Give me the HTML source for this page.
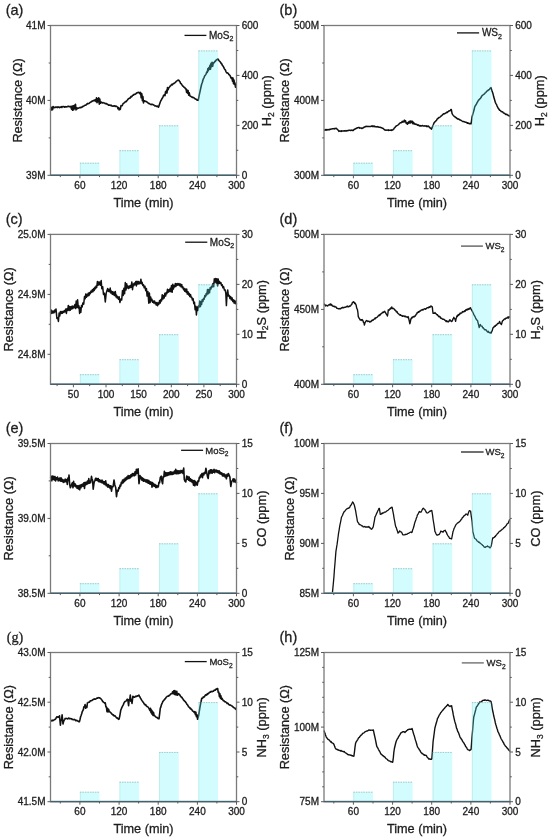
<!DOCTYPE html>
<html><head><meta charset="utf-8"><style>
html,body{margin:0;padding:0;background:#fff;}
svg{display:block;font-family:"Liberation Sans", sans-serif;will-change:transform;}
text{stroke:#1e1e1e;stroke-width:0.3px;}
</style></head><body>
<svg width="550" height="839" viewBox="0 0 550 839">
<rect width="550" height="839" fill="#fff"/>
<text x="5.7" y="14.8" font-size="14.5" fill="#1e1e1e">(a)</text>
<polyline points="50.5,109.6 51.0,107.2 51.5,110.0 52.1,107.2 52.6,109.7 53.1,106.5 53.6,107.4 54.2,107.7 54.7,107.2 55.2,107.5 55.8,107.1 56.3,107.0 56.8,107.2 57.3,107.6 57.8,106.9 58.4,107.0 58.9,107.3 59.4,107.6 59.9,107.2 60.4,107.0 61.0,107.5 61.5,106.6 62.0,107.3 62.5,106.8 63.0,106.6 63.6,106.6 64.1,106.7 64.6,107.2 65.2,106.6 65.7,106.9 66.2,106.9 66.7,106.7 67.2,106.8 67.8,106.3 68.3,106.3 68.8,106.4 69.4,106.8 69.9,106.6 70.4,106.4 70.9,107.0 71.5,109.1 72.0,106.0 72.6,110.3 73.2,105.7 73.8,109.7 74.4,105.3 75.0,108.5 75.5,104.3 76.0,109.9 76.5,107.8 77.0,108.9 77.5,108.0 78.0,108.2 78.5,108.3 79.1,107.7 79.6,107.8 80.1,107.3 80.6,107.8 81.1,107.6 81.6,107.1 82.2,107.1 82.7,106.3 83.2,106.4 83.7,106.0 84.3,105.7 84.8,105.3 85.3,105.3 85.8,105.2 86.4,104.4 86.9,104.3 87.4,103.5 87.9,103.8 88.4,103.5 88.9,103.5 89.4,103.1 90.0,102.4 90.5,102.2 91.0,102.2 91.5,101.3 92.0,101.5 92.6,101.0 93.1,100.7 93.7,100.4 94.2,100.8 94.8,100.0 95.3,99.8 95.9,101.5 96.5,97.9 97.0,102.6 97.5,98.7 98.0,101.6 98.7,97.7 99.3,104.1 99.8,99.0 100.3,103.3 100.9,102.0 101.4,102.1 101.9,102.8 102.4,103.0 102.9,102.5 103.4,102.7 104.0,102.9 104.5,103.1 105.0,103.5 105.5,103.8 106.0,103.6 106.5,103.6 107.0,104.1 107.5,104.2 108.0,104.6 108.5,105.1 109.0,105.0 109.5,105.0 110.0,105.3 110.5,105.5 111.0,105.0 111.6,105.9 112.1,105.9 112.6,106.1 113.2,106.2 113.7,105.9 114.2,106.0 114.7,105.9 115.2,106.5 115.8,106.1 116.3,106.2 116.9,106.6 117.4,106.9 118.0,108.8 118.6,107.5 119.1,109.9 119.7,109.0 120.3,109.4 121.0,105.6 121.5,105.8 122.0,105.8 122.6,104.8 123.1,103.6 123.7,103.2 124.2,102.8 124.8,102.3 125.3,101.6 125.9,101.8 126.4,101.4 127.0,100.5 127.5,100.0 128.0,99.2 128.5,98.8 129.0,98.5 129.6,98.0 130.1,98.1 130.6,97.0 131.1,96.4 131.6,96.8 132.2,96.0 132.7,95.3 133.3,95.2 133.9,94.4 134.4,94.4 135.0,94.4 135.5,94.1 136.0,93.7 136.5,93.0 137.1,92.9 137.6,92.5 138.1,92.7 138.6,92.3 139.1,92.3 140.0,93.9 140.6,92.4 141.2,97.8 141.8,93.7 142.4,100.6 142.9,96.5 143.5,102.9 144.1,100.8 144.6,100.7 145.2,101.3 145.7,101.5 146.2,101.5 146.8,101.8 147.3,102.4 147.9,102.7 148.4,103.3 149.0,103.7 149.5,103.5 150.0,104.1 150.6,104.4 151.1,104.6 151.6,104.2 152.1,104.3 152.7,104.5 153.2,104.7 153.7,104.9 154.3,105.5 154.8,105.9 155.3,106.0 155.8,105.9 156.4,106.2 156.9,106.5 157.4,106.1 158.0,106.8 158.5,107.2 159.1,105.5 159.7,103.8 160.3,102.0 160.8,100.7 161.3,100.1 161.9,98.7 162.4,98.0 162.9,97.1 163.4,95.8 163.9,95.1 164.4,94.8 165.0,95.7 165.5,91.9 166.0,93.1 166.5,90.4 167.0,92.9 167.5,87.5 168.1,89.8 168.6,88.2 169.1,87.4 169.7,86.7 170.2,86.0 170.8,85.7 171.3,84.9 171.8,84.4 172.4,84.8 172.9,84.1 173.5,83.5 174.0,83.5 174.6,82.7 175.1,82.7 175.7,82.2 176.2,81.3 176.8,80.9 177.3,80.6 177.9,80.2 178.4,80.1 179.0,80.5 179.5,81.4 180.1,81.9 180.6,83.4 181.2,83.7 181.7,84.5 182.3,85.4 182.8,86.2 183.4,86.3 183.9,87.2 184.5,87.4 185.0,87.9 185.5,88.8 186.0,88.7 186.6,92.4 187.1,90.1 187.6,93.2 188.1,90.5 188.7,95.1 189.2,92.7 189.8,95.6 190.3,96.3 190.8,96.3 191.3,96.7 191.8,97.0 192.3,97.5 192.8,97.1 193.3,97.8 193.8,97.8 194.4,98.1 194.9,98.8 195.4,98.9 196.0,99.2 196.6,99.7 197.1,100.1 197.6,100.0 198.2,100.4 198.8,97.3 199.4,94.4 200.0,91.6 200.6,88.9 201.1,86.5 201.7,84.0 202.3,82.5 202.9,80.3 203.5,78.5 204.1,77.6 204.6,76.0 205.2,75.3 205.7,74.6 206.2,73.6 206.8,71.9 207.3,72.4 207.9,68.5 208.4,70.7 208.9,67.5 209.5,69.3 210.0,65.2 210.5,69.3 211.0,63.3 211.6,66.6 212.1,62.2 212.7,66.2 213.2,62.9 213.8,63.0 214.3,62.5 214.8,61.3 215.4,61.4 215.9,60.4 216.5,59.9 217.0,59.8 217.6,59.1 218.1,59.1 218.6,60.0 219.1,60.7 219.6,61.2 220.1,61.7 220.6,62.4 221.1,63.4 221.6,63.6 222.2,65.0 222.7,65.8 223.2,66.3 223.8,67.4 224.3,68.6 224.8,69.4 225.3,69.8 225.9,71.6 226.4,72.3 226.9,72.9 227.4,72.7 227.9,73.3 228.4,73.6 228.9,74.8 229.4,74.9 229.9,75.3 230.4,76.4 230.9,77.7 231.4,78.5 232.0,77.6 232.5,81.2 233.0,78.0 233.5,83.8 234.0,80.1 234.5,84.4 235.0,83.1 235.5,87.2 236.0,85.6 236.5,86.1" fill="none" stroke="#111" stroke-width="1.6" stroke-linejoin="round"/>
<rect x="79.9" y="162.8" width="19.6" height="12.5" fill="rgb(88,245,248)" fill-opacity="0.27"/>
<line x1="79.9" y1="163.2" x2="99.5" y2="163.2" stroke="#8aa" stroke-width="0.8" stroke-dasharray="1.5,1" stroke-opacity="0.8"/>
<line x1="80.3" y1="162.8" x2="80.3" y2="175.3" stroke="#8cc" stroke-width="0.6" stroke-opacity="0.5"/>
<rect x="119.5" y="150.3" width="19.6" height="25.0" fill="rgb(88,245,248)" fill-opacity="0.27"/>
<line x1="119.5" y1="150.7" x2="139.1" y2="150.7" stroke="#8aa" stroke-width="0.8" stroke-dasharray="1.5,1" stroke-opacity="0.8"/>
<line x1="119.9" y1="150.3" x2="119.9" y2="175.3" stroke="#8cc" stroke-width="0.6" stroke-opacity="0.5"/>
<rect x="159.1" y="125.4" width="19.6" height="49.9" fill="rgb(88,245,248)" fill-opacity="0.27"/>
<line x1="159.1" y1="125.8" x2="178.7" y2="125.8" stroke="#8aa" stroke-width="0.8" stroke-dasharray="1.5,1" stroke-opacity="0.8"/>
<line x1="159.5" y1="125.4" x2="159.5" y2="175.3" stroke="#8cc" stroke-width="0.6" stroke-opacity="0.5"/>
<rect x="198.4" y="50.5" width="19.6" height="124.8" fill="rgb(88,245,248)" fill-opacity="0.27"/>
<line x1="198.4" y1="50.9" x2="218.0" y2="50.9" stroke="#8aa" stroke-width="0.8" stroke-dasharray="1.5,1" stroke-opacity="0.8"/>
<line x1="198.8" y1="50.5" x2="198.8" y2="175.3" stroke="#8cc" stroke-width="0.6" stroke-opacity="0.5"/>
<line x1="50.5" y1="174.7" x2="236.5" y2="174.7" stroke="#8cc8d8" stroke-width="1"/>
<rect x="50.5" y="25.5" width="186.0" height="149.8" fill="none" stroke="#7a7a7a" stroke-width="1.3"/>
<line x1="50.5" y1="175.3" x2="236.5" y2="175.3" stroke="#4e5e66" stroke-width="1.2"/>
<line x1="47.5" y1="175.3" x2="50.5" y2="175.3" stroke="#5a5a5a" stroke-width="1"/>
<text x="45.5" y="178.9" font-size="10" text-anchor="end" fill="#1e1e1e">39M</text>
<line x1="47.5" y1="100.4" x2="50.5" y2="100.4" stroke="#5a5a5a" stroke-width="1"/>
<text x="45.5" y="104.0" font-size="10" text-anchor="end" fill="#1e1e1e">40M</text>
<line x1="47.5" y1="25.5" x2="50.5" y2="25.5" stroke="#5a5a5a" stroke-width="1"/>
<text x="45.5" y="29.1" font-size="10" text-anchor="end" fill="#1e1e1e">41M</text>
<line x1="48.7" y1="137.9" x2="50.5" y2="137.9" stroke="#5a5a5a" stroke-width="1"/>
<line x1="48.7" y1="63.0" x2="50.5" y2="63.0" stroke="#5a5a5a" stroke-width="1"/>
<line x1="236.5" y1="175.3" x2="239.5" y2="175.3" stroke="#5a5a5a" stroke-width="1"/>
<text x="241.7" y="178.9" font-size="10" fill="#1e1e1e">0</text>
<line x1="236.5" y1="125.4" x2="239.5" y2="125.4" stroke="#5a5a5a" stroke-width="1"/>
<text x="241.7" y="129.0" font-size="10" fill="#1e1e1e">200</text>
<line x1="236.5" y1="75.4" x2="239.5" y2="75.4" stroke="#5a5a5a" stroke-width="1"/>
<text x="241.7" y="79.0" font-size="10" fill="#1e1e1e">400</text>
<line x1="236.5" y1="25.5" x2="239.5" y2="25.5" stroke="#5a5a5a" stroke-width="1"/>
<text x="241.7" y="29.1" font-size="10" fill="#1e1e1e">600</text>
<line x1="236.5" y1="150.3" x2="238.3" y2="150.3" stroke="#5a5a5a" stroke-width="1"/>
<line x1="236.5" y1="100.4" x2="238.3" y2="100.4" stroke="#5a5a5a" stroke-width="1"/>
<line x1="236.5" y1="50.5" x2="238.3" y2="50.5" stroke="#5a5a5a" stroke-width="1"/>
<line x1="79.9" y1="175.3" x2="79.9" y2="178.3" stroke="#5a5a5a" stroke-width="1"/>
<text x="79.9" y="188.5" font-size="10" text-anchor="middle" fill="#1e1e1e">60</text>
<line x1="119.1" y1="175.3" x2="119.1" y2="178.3" stroke="#5a5a5a" stroke-width="1"/>
<text x="119.1" y="188.5" font-size="10" text-anchor="middle" fill="#1e1e1e">120</text>
<line x1="158.2" y1="175.3" x2="158.2" y2="178.3" stroke="#5a5a5a" stroke-width="1"/>
<text x="158.2" y="188.5" font-size="10" text-anchor="middle" fill="#1e1e1e">180</text>
<line x1="197.4" y1="175.3" x2="197.4" y2="178.3" stroke="#5a5a5a" stroke-width="1"/>
<text x="197.4" y="188.5" font-size="10" text-anchor="middle" fill="#1e1e1e">240</text>
<line x1="236.5" y1="175.3" x2="236.5" y2="178.3" stroke="#5a5a5a" stroke-width="1"/>
<text x="236.5" y="188.5" font-size="10" text-anchor="middle" fill="#1e1e1e">300</text>
<line x1="60.3" y1="175.3" x2="60.3" y2="177.10000000000002" stroke="#5a5a5a" stroke-width="1"/>
<line x1="99.5" y1="175.3" x2="99.5" y2="177.10000000000002" stroke="#5a5a5a" stroke-width="1"/>
<line x1="138.6" y1="175.3" x2="138.6" y2="177.10000000000002" stroke="#5a5a5a" stroke-width="1"/>
<line x1="177.8" y1="175.3" x2="177.8" y2="177.10000000000002" stroke="#5a5a5a" stroke-width="1"/>
<line x1="216.9" y1="175.3" x2="216.9" y2="177.10000000000002" stroke="#5a5a5a" stroke-width="1"/>
<text x="143.5" y="206.9" font-size="12.7" text-anchor="middle" fill="#1e1e1e">Time (min)</text>
<text transform="translate(21.9,100.5) rotate(-90)" font-size="12.7" text-anchor="middle" fill="#1e1e1e">Resistance (&#937;)</text>
<text transform="translate(271.1,100.7) rotate(-90)" font-size="12.8" text-anchor="middle" fill="#1e1e1e">H<tspan font-size="8.5" dy="2.5">2</tspan><tspan dy="-2.5"> (ppm)</tspan></text>
<line x1="184.5" y1="35.4" x2="206.4" y2="35.4" stroke="#111" stroke-width="1.3"/>
<text x="208.9" y="38.8" font-size="10" fill="#1e1e1e">MoS<tspan font-size="7.0" dy="2.5">2</tspan></text>
<text x="279.5" y="14.8" font-size="14.5" fill="#1e1e1e">(b)</text>
<polyline points="324.0,130.3 324.5,130.1 325.0,130.1 325.5,129.6 326.0,130.1 326.5,129.5 327.0,130.0 327.5,129.7 328.0,129.6 328.5,129.7 329.0,129.9 329.5,129.4 330.0,129.2 330.5,129.4 331.0,129.1 331.6,129.0 332.1,128.9 332.6,128.7 333.1,128.7 333.6,128.7 334.1,128.6 334.6,128.9 335.2,128.4 335.7,128.5 336.2,128.2 336.7,128.9 337.3,129.2 337.8,129.9 338.4,130.3 338.9,131.4 339.4,131.2 339.9,130.9 340.4,131.1 340.9,131.4 341.4,130.8 341.9,131.2 342.5,130.9 343.0,130.9 343.5,131.1 344.0,130.8 344.5,130.8 345.0,130.9 345.5,131.1 346.0,130.6 346.5,130.9 347.0,130.8 347.5,130.7 348.0,130.5 348.5,130.5 349.0,130.2 349.5,130.3 350.0,130.2 350.5,130.6 351.0,130.3 351.5,130.2 352.0,130.1 352.5,130.6 353.0,130.6 353.5,130.1 354.1,129.5 354.6,129.2 355.1,129.0 355.6,128.8 356.2,128.3 356.7,128.2 357.2,127.7 357.8,127.9 358.3,127.6 358.8,127.5 359.3,127.5 359.8,128.2 360.3,127.9 360.8,128.1 361.3,128.1 361.8,128.5 362.3,128.3 362.8,128.1 363.3,127.6 363.8,127.6 364.3,127.0 364.8,126.9 365.3,126.5 365.8,126.7 366.3,126.4 366.8,126.3 367.3,126.5 367.8,126.4 368.3,126.6 368.9,126.5 369.4,126.6 369.9,126.5 370.4,126.5 370.9,126.5 371.4,126.1 371.9,126.0 372.4,126.4 372.9,125.9 373.4,126.4 374.0,126.4 374.5,126.1 375.0,126.7 375.5,126.8 376.0,126.7 376.5,126.8 377.1,127.0 377.6,126.6 378.1,126.9 378.6,127.0 379.1,127.3 379.6,127.3 380.2,127.4 380.7,127.3 381.2,127.6 381.7,127.8 382.2,128.2 382.7,128.3 383.2,128.5 383.7,129.0 384.2,129.5 384.7,129.7 385.2,130.3 385.7,130.1 386.2,130.1 386.7,130.2 387.2,130.2 387.7,130.1 388.2,129.8 388.7,130.4 389.2,130.3 389.7,130.2 390.2,130.2 390.7,130.3 391.2,129.9 391.7,130.4 392.2,130.1 392.7,130.0 393.2,129.4 393.7,129.1 394.3,128.0 394.8,127.7 395.3,127.1 395.8,126.4 396.4,125.9 396.9,125.6 397.4,125.4 398.0,125.0 398.5,124.5 399.0,124.2 399.5,123.4 400.1,123.0 400.6,122.7 401.2,122.8 401.7,122.2 402.2,121.3 402.8,122.2 403.4,121.2 403.9,121.9 404.4,120.1 405.0,121.7 405.6,120.9 406.2,123.4 406.8,123.0 407.4,124.3 407.9,122.5 408.4,123.4 409.0,121.5 409.6,122.9 410.1,120.9 410.6,122.9 411.2,121.1 411.7,122.6 412.3,121.2 412.8,123.7 413.4,122.2 413.9,123.9 414.5,123.4 415.0,124.3 415.5,124.0 416.0,124.4 416.6,124.3 417.1,124.7 417.6,125.2 418.1,124.8 418.6,125.5 419.2,125.4 419.7,125.9 420.2,125.9 420.7,125.6 421.2,126.1 421.7,125.9 422.2,125.6 422.7,125.6 423.2,126.0 423.7,126.0 424.2,125.9 424.8,125.8 425.3,126.0 425.8,126.0 426.3,126.4 426.8,125.8 427.3,126.4 427.8,126.5 428.3,126.0 428.8,126.6 429.3,127.0 429.8,127.7 430.4,127.9 430.9,128.5 431.4,129.1 431.9,128.3 432.4,126.9 433.0,125.5 433.5,124.3 434.0,123.0 434.5,122.3 435.0,121.7 435.5,121.6 436.0,120.6 436.5,120.4 437.0,119.3 437.5,118.7 438.0,118.5 438.5,117.8 439.0,117.5 439.5,117.5 440.1,117.0 440.6,116.5 441.1,115.9 441.6,115.7 442.1,115.2 442.6,114.5 443.1,114.4 443.6,113.7 444.2,113.9 444.7,113.5 445.2,113.4 445.7,113.1 446.2,112.6 446.8,112.2 447.3,112.5 447.8,111.7 448.3,111.6 448.8,111.1 449.3,110.7 449.8,110.7 450.3,110.5 450.8,109.6 451.3,109.5 452.1,113.6 452.7,114.6 453.3,115.4 453.9,116.1 454.4,116.4 454.9,116.7 455.4,117.5 455.9,117.6 456.4,117.7 456.9,118.5 457.4,118.9 457.9,118.8 458.4,118.9 458.9,119.3 459.4,119.5 459.9,120.0 460.4,120.0 461.0,120.3 461.5,120.6 462.0,121.0 462.6,121.4 463.1,121.5 463.6,121.5 464.1,121.7 464.7,122.0 465.2,122.1 465.7,122.3 466.3,122.3 466.8,122.6 467.3,123.3 467.9,122.8 468.4,123.3 469.0,123.5 469.5,123.8 470.0,123.5 470.6,123.7 471.1,123.8 472.0,117.0 472.5,115.2 473.0,113.6 473.6,111.6 474.1,109.8 474.6,107.3 475.2,105.9 475.9,105.0 476.5,103.8 477.1,102.6 477.7,101.8 478.3,100.5 478.9,99.8 479.4,99.5 479.9,98.8 480.5,98.2 481.0,97.6 481.5,96.4 482.0,95.8 482.5,95.2 483.1,94.9 483.6,94.5 484.1,94.1 484.7,93.5 485.2,92.9 485.8,92.5 486.4,91.8 486.9,91.3 487.5,90.5 488.0,90.6 488.5,89.8 489.0,89.8 489.5,89.2 490.0,88.5 490.5,88.0 491.0,87.6 491.6,89.6 492.1,91.4 492.7,92.7 493.2,94.6 493.7,96.8 494.3,98.8 494.8,100.5 495.3,102.3 495.9,103.6 496.4,104.3 496.9,105.6 497.5,106.8 498.0,108.0 498.6,108.6 499.1,109.6 499.6,110.2 500.1,110.4 500.6,110.7 501.2,111.6 501.7,111.7 502.2,111.8 502.7,112.0 503.2,112.6 503.8,113.1 504.3,113.3 504.8,113.5 505.3,114.1 505.8,114.5 506.4,114.3 506.9,114.4 507.4,114.9 507.9,115.2 508.4,115.6 509.0,115.6 509.5,116.2 510.0,116.5" fill="none" stroke="#111" stroke-width="1.5" stroke-linejoin="round"/>
<rect x="353.4" y="162.8" width="19.6" height="12.5" fill="rgb(88,245,248)" fill-opacity="0.27"/>
<line x1="353.4" y1="163.2" x2="373.0" y2="163.2" stroke="#8aa" stroke-width="0.8" stroke-dasharray="1.5,1" stroke-opacity="0.8"/>
<line x1="353.8" y1="162.8" x2="353.8" y2="175.3" stroke="#8cc" stroke-width="0.6" stroke-opacity="0.5"/>
<rect x="393.0" y="150.3" width="19.6" height="25.0" fill="rgb(88,245,248)" fill-opacity="0.27"/>
<line x1="393.0" y1="150.7" x2="412.6" y2="150.7" stroke="#8aa" stroke-width="0.8" stroke-dasharray="1.5,1" stroke-opacity="0.8"/>
<line x1="393.4" y1="150.3" x2="393.4" y2="175.3" stroke="#8cc" stroke-width="0.6" stroke-opacity="0.5"/>
<rect x="432.6" y="125.4" width="19.6" height="49.9" fill="rgb(88,245,248)" fill-opacity="0.27"/>
<line x1="432.6" y1="125.8" x2="452.2" y2="125.8" stroke="#8aa" stroke-width="0.8" stroke-dasharray="1.5,1" stroke-opacity="0.8"/>
<line x1="433.0" y1="125.4" x2="433.0" y2="175.3" stroke="#8cc" stroke-width="0.6" stroke-opacity="0.5"/>
<rect x="471.9" y="50.5" width="19.6" height="124.8" fill="rgb(88,245,248)" fill-opacity="0.27"/>
<line x1="471.9" y1="50.9" x2="491.5" y2="50.9" stroke="#8aa" stroke-width="0.8" stroke-dasharray="1.5,1" stroke-opacity="0.8"/>
<line x1="472.3" y1="50.5" x2="472.3" y2="175.3" stroke="#8cc" stroke-width="0.6" stroke-opacity="0.5"/>
<line x1="324.0" y1="174.7" x2="510.0" y2="174.7" stroke="#8cc8d8" stroke-width="1"/>
<rect x="324.0" y="25.5" width="186.0" height="149.8" fill="none" stroke="#7a7a7a" stroke-width="1.3"/>
<line x1="324.0" y1="175.3" x2="510.0" y2="175.3" stroke="#4e5e66" stroke-width="1.2"/>
<line x1="321.0" y1="175.3" x2="324.0" y2="175.3" stroke="#5a5a5a" stroke-width="1"/>
<text x="319.0" y="178.9" font-size="10" text-anchor="end" fill="#1e1e1e">300M</text>
<line x1="321.0" y1="100.4" x2="324.0" y2="100.4" stroke="#5a5a5a" stroke-width="1"/>
<text x="319.0" y="104.0" font-size="10" text-anchor="end" fill="#1e1e1e">400M</text>
<line x1="321.0" y1="25.5" x2="324.0" y2="25.5" stroke="#5a5a5a" stroke-width="1"/>
<text x="319.0" y="29.1" font-size="10" text-anchor="end" fill="#1e1e1e">500M</text>
<line x1="322.2" y1="137.9" x2="324.0" y2="137.9" stroke="#5a5a5a" stroke-width="1"/>
<line x1="322.2" y1="63.0" x2="324.0" y2="63.0" stroke="#5a5a5a" stroke-width="1"/>
<line x1="510.0" y1="175.3" x2="513.0" y2="175.3" stroke="#5a5a5a" stroke-width="1"/>
<text x="515.2" y="178.9" font-size="10" fill="#1e1e1e">0</text>
<line x1="510.0" y1="125.4" x2="513.0" y2="125.4" stroke="#5a5a5a" stroke-width="1"/>
<text x="515.2" y="129.0" font-size="10" fill="#1e1e1e">200</text>
<line x1="510.0" y1="75.4" x2="513.0" y2="75.4" stroke="#5a5a5a" stroke-width="1"/>
<text x="515.2" y="79.0" font-size="10" fill="#1e1e1e">400</text>
<line x1="510.0" y1="25.5" x2="513.0" y2="25.5" stroke="#5a5a5a" stroke-width="1"/>
<text x="515.2" y="29.1" font-size="10" fill="#1e1e1e">600</text>
<line x1="510.0" y1="150.3" x2="511.8" y2="150.3" stroke="#5a5a5a" stroke-width="1"/>
<line x1="510.0" y1="100.4" x2="511.8" y2="100.4" stroke="#5a5a5a" stroke-width="1"/>
<line x1="510.0" y1="50.5" x2="511.8" y2="50.5" stroke="#5a5a5a" stroke-width="1"/>
<line x1="353.4" y1="175.3" x2="353.4" y2="178.3" stroke="#5a5a5a" stroke-width="1"/>
<text x="353.4" y="188.5" font-size="10" text-anchor="middle" fill="#1e1e1e">60</text>
<line x1="392.6" y1="175.3" x2="392.6" y2="178.3" stroke="#5a5a5a" stroke-width="1"/>
<text x="392.6" y="188.5" font-size="10" text-anchor="middle" fill="#1e1e1e">120</text>
<line x1="431.7" y1="175.3" x2="431.7" y2="178.3" stroke="#5a5a5a" stroke-width="1"/>
<text x="431.7" y="188.5" font-size="10" text-anchor="middle" fill="#1e1e1e">180</text>
<line x1="470.9" y1="175.3" x2="470.9" y2="178.3" stroke="#5a5a5a" stroke-width="1"/>
<text x="470.9" y="188.5" font-size="10" text-anchor="middle" fill="#1e1e1e">240</text>
<line x1="510.0" y1="175.3" x2="510.0" y2="178.3" stroke="#5a5a5a" stroke-width="1"/>
<text x="510.0" y="188.5" font-size="10" text-anchor="middle" fill="#1e1e1e">300</text>
<line x1="333.8" y1="175.3" x2="333.8" y2="177.10000000000002" stroke="#5a5a5a" stroke-width="1"/>
<line x1="373.0" y1="175.3" x2="373.0" y2="177.10000000000002" stroke="#5a5a5a" stroke-width="1"/>
<line x1="412.1" y1="175.3" x2="412.1" y2="177.10000000000002" stroke="#5a5a5a" stroke-width="1"/>
<line x1="451.3" y1="175.3" x2="451.3" y2="177.10000000000002" stroke="#5a5a5a" stroke-width="1"/>
<line x1="490.4" y1="175.3" x2="490.4" y2="177.10000000000002" stroke="#5a5a5a" stroke-width="1"/>
<text x="417.0" y="206.9" font-size="12.7" text-anchor="middle" fill="#1e1e1e">Time (min)</text>
<text transform="translate(289.2,100.5) rotate(-90)" font-size="12.7" text-anchor="middle" fill="#1e1e1e">Resistance (&#937;)</text>
<text transform="translate(544.2,100.7) rotate(-90)" font-size="12.8" text-anchor="middle" fill="#1e1e1e">H<tspan font-size="8.5" dy="2.5">2</tspan><tspan dy="-2.5"> (ppm)</tspan></text>
<line x1="457.0" y1="32.9" x2="479.1" y2="32.9" stroke="#111" stroke-width="1.3"/>
<text x="481.9" y="36.4" font-size="10" fill="#1e1e1e">WS<tspan font-size="7.0" dy="2.5">2</tspan></text>
<text x="5.7" y="223.7" font-size="14.5" fill="#1e1e1e">(c)</text>
<polyline points="50.5,312.7 51.1,309.9 51.7,313.4 52.3,311.1 52.9,313.1 53.5,311.1 54.1,312.8 54.8,310.0 55.4,311.8 56.0,308.9 56.9,318.4 57.8,317.9 58.4,321.5 59.1,313.1 59.8,315.9 60.4,311.5 61.1,313.5 61.8,311.4 62.4,313.2 63.1,311.2 63.8,312.5 64.5,310.4 65.1,311.7 65.8,308.9 66.4,313.5 67.0,308.8 67.7,310.4 68.3,305.4 69.0,310.5 69.7,306.4 70.3,310.2 71.0,306.7 71.6,309.0 72.2,306.0 72.9,308.5 73.5,306.3 74.2,307.7 74.9,304.4 75.6,308.6 76.2,301.1 76.9,307.4 77.6,299.7 78.3,308.0 79.0,305.9 79.6,313.5 80.2,307.7 80.8,312.3 81.5,305.4 82.2,307.0 82.8,303.0 83.7,304.1 84.5,296.6 85.2,298.7 85.8,293.9 86.5,297.2 87.1,294.3 87.8,296.0 88.4,293.0 89.0,295.5 89.7,292.5 90.4,293.6 91.0,290.9 91.7,292.2 92.3,289.8 93.0,291.7 93.6,288.4 94.2,290.5 94.9,287.2 95.5,288.8 96.1,285.9 96.7,287.5 97.4,281.5 98.0,285.2 98.6,282.0 99.2,284.7 99.8,282.0 100.5,285.2 101.2,280.5 101.8,288.8 102.7,286.8 103.5,294.5 104.4,293.2 105.3,302.0 106.2,293.1 107.0,290.4 107.7,288.4 108.3,291.4 109.0,289.6 109.6,291.8 110.2,288.1 110.9,293.1 111.5,291.1 112.2,294.2 112.8,291.8 113.5,294.7 114.1,292.3 114.7,295.5 115.3,291.5 116.0,296.9 116.6,295.2 117.2,298.0 117.8,296.8 118.5,299.3 119.1,296.7 119.9,302.5 120.8,299.1 121.7,299.9 122.5,290.6 123.2,295.4 123.9,288.3 124.6,293.7 125.3,282.5 126.0,290.0 126.7,283.8 127.3,287.9 127.9,286.1 128.6,288.5 129.2,285.9 129.9,287.7 130.5,285.4 131.2,287.3 131.8,281.9 132.5,289.7 133.2,284.1 133.8,285.7 134.4,282.9 135.1,284.7 135.8,281.5 136.4,286.0 137.0,281.3 137.7,284.1 138.3,281.5 138.9,283.9 139.6,282.0 140.2,283.6 140.9,279.2 141.5,283.7 142.2,282.4 142.8,285.6 143.5,284.8 144.2,287.7 144.9,286.2 145.7,290.7 146.4,288.4 147.1,296.1 147.9,291.6 148.8,303.3 149.4,293.0 150.1,302.6 150.7,297.1 151.3,300.7 151.9,299.3 152.6,302.2 153.2,301.0 153.8,302.9 154.5,301.0 155.1,303.7 155.7,302.5 156.3,305.0 157.0,302.4 157.6,305.7 158.3,302.9 158.9,304.2 159.6,300.5 160.2,303.1 160.9,299.5 161.6,300.9 162.2,294.7 162.9,299.1 163.6,295.5 164.2,297.9 164.9,293.2 165.6,296.1 166.2,292.6 166.9,293.7 167.5,289.2 168.2,292.2 168.9,289.7 169.6,291.6 170.2,288.2 170.9,291.7 171.5,285.4 172.2,292.2 172.8,284.3 173.4,289.0 174.0,285.6 174.7,286.9 175.3,283.6 175.9,286.6 176.6,283.8 177.2,285.3 177.8,283.4 178.4,285.1 179.1,283.6 179.7,285.8 180.3,283.9 181.0,286.7 181.7,284.5 182.3,287.8 182.9,286.9 183.6,289.8 184.2,288.4 184.8,291.3 185.4,289.0 186.1,292.2 186.7,289.1 187.3,294.1 188.0,291.7 188.6,294.9 189.2,293.4 189.8,296.5 190.5,294.5 191.1,297.4 191.8,297.2 192.4,300.0 193.1,298.7 193.8,303.7 194.5,302.2 195.1,309.8 195.8,306.2 196.4,314.9 197.1,307.0 197.8,310.4 198.4,306.0 199.1,307.2 199.7,301.0 200.4,306.6 201.0,301.4 201.6,304.5 202.2,299.7 202.9,301.6 203.5,298.4 204.2,299.2 204.8,295.5 205.5,296.8 206.2,293.5 206.8,294.9 207.5,289.6 208.1,293.8 208.8,289.6 209.5,292.8 210.2,287.6 210.9,289.0 211.6,286.3 212.3,286.9 213.0,283.5 213.7,286.7 214.3,278.8 215.0,281.9 215.7,278.6 216.3,283.1 216.9,278.8 217.6,285.9 218.2,279.1 218.9,283.4 219.5,281.5 220.2,283.5 220.9,282.6 221.6,285.6 222.2,284.7 222.9,287.8 223.6,286.6 224.4,290.1 225.1,289.8 225.8,293.2 226.4,305.6 227.0,294.6 227.7,289.9 228.4,296.1 229.2,295.4 229.9,298.5 230.6,296.4 231.3,299.9 232.1,297.9 232.8,301.6 233.5,299.9 234.1,303.0 234.7,300.4 235.3,303.5 235.9,301.5 236.5,304.5" fill="none" stroke="#111" stroke-width="1.5" stroke-linejoin="round"/>
<rect x="79.9" y="374.3" width="19.6" height="10.0" fill="rgb(88,245,248)" fill-opacity="0.27"/>
<line x1="79.9" y1="374.7" x2="99.5" y2="374.7" stroke="#8aa" stroke-width="0.8" stroke-dasharray="1.5,1" stroke-opacity="0.8"/>
<line x1="80.3" y1="374.3" x2="80.3" y2="384.3" stroke="#8cc" stroke-width="0.6" stroke-opacity="0.5"/>
<rect x="119.5" y="359.3" width="19.6" height="25.0" fill="rgb(88,245,248)" fill-opacity="0.27"/>
<line x1="119.5" y1="359.7" x2="139.1" y2="359.7" stroke="#8aa" stroke-width="0.8" stroke-dasharray="1.5,1" stroke-opacity="0.8"/>
<line x1="119.9" y1="359.3" x2="119.9" y2="384.3" stroke="#8cc" stroke-width="0.6" stroke-opacity="0.5"/>
<rect x="159.1" y="334.3" width="19.6" height="50.0" fill="rgb(88,245,248)" fill-opacity="0.27"/>
<line x1="159.1" y1="334.7" x2="178.7" y2="334.7" stroke="#8aa" stroke-width="0.8" stroke-dasharray="1.5,1" stroke-opacity="0.8"/>
<line x1="159.5" y1="334.3" x2="159.5" y2="384.3" stroke="#8cc" stroke-width="0.6" stroke-opacity="0.5"/>
<rect x="198.4" y="284.4" width="19.6" height="99.9" fill="rgb(88,245,248)" fill-opacity="0.27"/>
<line x1="198.4" y1="284.8" x2="218.0" y2="284.8" stroke="#8aa" stroke-width="0.8" stroke-dasharray="1.5,1" stroke-opacity="0.8"/>
<line x1="198.8" y1="284.4" x2="198.8" y2="384.3" stroke="#8cc" stroke-width="0.6" stroke-opacity="0.5"/>
<line x1="50.5" y1="383.7" x2="236.5" y2="383.7" stroke="#8cc8d8" stroke-width="1"/>
<rect x="50.5" y="234.4" width="186.0" height="149.9" fill="none" stroke="#7a7a7a" stroke-width="1.3"/>
<line x1="50.5" y1="384.3" x2="236.5" y2="384.3" stroke="#4e5e66" stroke-width="1.2"/>
<line x1="47.5" y1="354.3" x2="50.5" y2="354.3" stroke="#5a5a5a" stroke-width="1"/>
<text x="45.5" y="357.9" font-size="10" text-anchor="end" fill="#1e1e1e">24.8M</text>
<line x1="47.5" y1="294.4" x2="50.5" y2="294.4" stroke="#5a5a5a" stroke-width="1"/>
<text x="45.5" y="298.0" font-size="10" text-anchor="end" fill="#1e1e1e">24.9M</text>
<line x1="47.5" y1="234.4" x2="50.5" y2="234.4" stroke="#5a5a5a" stroke-width="1"/>
<text x="45.5" y="238.0" font-size="10" text-anchor="end" fill="#1e1e1e">25.0M</text>
<line x1="48.7" y1="324.3" x2="50.5" y2="324.3" stroke="#5a5a5a" stroke-width="1"/>
<line x1="48.7" y1="264.4" x2="50.5" y2="264.4" stroke="#5a5a5a" stroke-width="1"/>
<line x1="236.5" y1="384.3" x2="239.5" y2="384.3" stroke="#5a5a5a" stroke-width="1"/>
<text x="241.7" y="387.9" font-size="10" fill="#1e1e1e">0</text>
<line x1="236.5" y1="334.3" x2="239.5" y2="334.3" stroke="#5a5a5a" stroke-width="1"/>
<text x="241.7" y="337.9" font-size="10" fill="#1e1e1e">10</text>
<line x1="236.5" y1="284.4" x2="239.5" y2="284.4" stroke="#5a5a5a" stroke-width="1"/>
<text x="241.7" y="288.0" font-size="10" fill="#1e1e1e">20</text>
<line x1="236.5" y1="234.4" x2="239.5" y2="234.4" stroke="#5a5a5a" stroke-width="1"/>
<text x="241.7" y="238.0" font-size="10" fill="#1e1e1e">30</text>
<line x1="236.5" y1="359.3" x2="238.3" y2="359.3" stroke="#5a5a5a" stroke-width="1"/>
<line x1="236.5" y1="309.4" x2="238.3" y2="309.4" stroke="#5a5a5a" stroke-width="1"/>
<line x1="236.5" y1="259.4" x2="238.3" y2="259.4" stroke="#5a5a5a" stroke-width="1"/>
<line x1="73.4" y1="384.3" x2="73.4" y2="387.3" stroke="#5a5a5a" stroke-width="1"/>
<text x="73.4" y="397.5" font-size="10" text-anchor="middle" fill="#1e1e1e">50</text>
<line x1="106.0" y1="384.3" x2="106.0" y2="387.3" stroke="#5a5a5a" stroke-width="1"/>
<text x="106.0" y="397.5" font-size="10" text-anchor="middle" fill="#1e1e1e">100</text>
<line x1="138.6" y1="384.3" x2="138.6" y2="387.3" stroke="#5a5a5a" stroke-width="1"/>
<text x="138.6" y="397.5" font-size="10" text-anchor="middle" fill="#1e1e1e">150</text>
<line x1="171.3" y1="384.3" x2="171.3" y2="387.3" stroke="#5a5a5a" stroke-width="1"/>
<text x="171.3" y="397.5" font-size="10" text-anchor="middle" fill="#1e1e1e">200</text>
<line x1="203.9" y1="384.3" x2="203.9" y2="387.3" stroke="#5a5a5a" stroke-width="1"/>
<text x="203.9" y="397.5" font-size="10" text-anchor="middle" fill="#1e1e1e">250</text>
<line x1="236.5" y1="384.3" x2="236.5" y2="387.3" stroke="#5a5a5a" stroke-width="1"/>
<text x="236.5" y="397.5" font-size="10" text-anchor="middle" fill="#1e1e1e">300</text>
<line x1="57.1" y1="384.3" x2="57.1" y2="386.1" stroke="#5a5a5a" stroke-width="1"/>
<line x1="89.7" y1="384.3" x2="89.7" y2="386.1" stroke="#5a5a5a" stroke-width="1"/>
<line x1="122.3" y1="384.3" x2="122.3" y2="386.1" stroke="#5a5a5a" stroke-width="1"/>
<line x1="154.9" y1="384.3" x2="154.9" y2="386.1" stroke="#5a5a5a" stroke-width="1"/>
<line x1="187.6" y1="384.3" x2="187.6" y2="386.1" stroke="#5a5a5a" stroke-width="1"/>
<line x1="220.2" y1="384.3" x2="220.2" y2="386.1" stroke="#5a5a5a" stroke-width="1"/>
<text x="143.5" y="415.9" font-size="12.7" text-anchor="middle" fill="#1e1e1e">Time (min)</text>
<text transform="translate(12.8,309.5) rotate(-90)" font-size="12.7" text-anchor="middle" fill="#1e1e1e">Resistance (&#937;)</text>
<text transform="translate(265.7,309.7) rotate(-90)" font-size="12.8" text-anchor="middle" fill="#1e1e1e">H<tspan font-size="8.5" dy="2.5">2</tspan><tspan dy="-2.5">S (ppm)</tspan></text>
<line x1="185.2" y1="242.2" x2="207.3" y2="242.2" stroke="#111" stroke-width="1.3"/>
<text x="209.8" y="245.8" font-size="10" fill="#1e1e1e">MoS<tspan font-size="7.0" dy="2.5">2</tspan></text>
<text x="279.5" y="223.7" font-size="14.5" fill="#1e1e1e">(d)</text>
<polyline points="324.0,303.8 324.4,304.1 324.8,304.6 325.2,305.4 325.6,305.9 326.1,305.3 326.5,305.4 326.9,305.7 327.4,306.0 327.8,305.9 328.3,305.1 328.8,304.9 329.2,304.4 329.7,305.0 330.1,304.4 330.5,303.9 331.0,305.2 331.4,304.4 331.9,305.0 332.3,306.0 332.7,306.0 333.2,306.2 333.6,306.1 334.0,306.1 334.4,306.8 334.8,306.4 335.2,306.7 335.6,307.1 336.0,306.9 336.5,307.6 336.9,308.3 337.3,308.4 337.7,308.4 338.1,308.7 338.5,308.7 338.9,308.6 339.3,308.9 339.8,308.5 340.2,308.8 340.6,308.8 341.1,308.0 341.5,308.0 342.0,308.1 342.4,307.5 342.8,307.2 343.3,307.7 343.7,307.8 344.1,307.5 344.6,307.3 345.0,307.4 345.5,307.1 345.9,307.0 346.3,306.7 346.7,306.5 347.1,306.8 347.5,306.1 347.9,306.4 348.3,306.8 348.7,306.7 349.1,306.5 349.5,306.0 349.9,306.2 350.3,306.1 350.7,305.7 351.2,304.7 351.6,304.4 352.0,304.0 352.4,302.5 352.9,302.4 353.3,301.8 353.8,301.9 354.2,302.5 354.7,303.6 355.1,303.0 355.6,304.2 356.1,305.0 356.5,307.1 356.9,308.6 357.4,309.4 357.9,312.5 358.3,316.6 358.7,317.3 359.1,318.3 359.6,318.8 360.0,319.8 360.4,320.1 360.9,319.8 361.4,319.7 361.8,320.4 362.2,319.6 362.7,320.2 363.1,321.0 363.5,322.5 364.0,322.8 364.4,325.0 364.8,323.4 365.3,322.1 365.8,321.5 366.2,320.8 366.6,320.4 367.0,320.9 367.4,321.0 367.8,321.4 368.2,321.1 368.6,321.1 369.0,321.1 369.4,321.8 369.8,322.1 370.2,321.7 370.6,321.4 371.0,321.7 371.5,320.9 371.9,320.4 372.4,320.0 372.8,320.4 373.2,320.1 373.7,319.6 374.1,319.1 374.6,318.8 375.0,318.1 375.4,318.7 375.9,317.6 376.4,317.6 376.8,317.5 377.2,317.2 377.7,316.5 378.1,315.9 378.6,315.9 379.0,315.0 379.4,315.6 379.9,314.6 380.3,314.9 380.8,313.9 381.2,313.7 381.6,313.2 382.1,313.1 382.5,312.6 382.9,312.1 383.4,312.6 383.8,311.8 384.3,311.5 384.7,311.3 385.1,312.2 385.6,312.8 386.0,313.7 386.5,314.4 386.9,314.8 387.4,316.1 387.9,313.4 388.3,309.8 388.7,310.4 389.2,310.1 389.6,309.6 390.1,308.5 390.5,309.0 390.9,308.4 391.4,307.4 391.8,307.0 392.2,308.5 392.7,308.5 393.1,308.3 393.6,308.5 394.0,308.9 394.4,309.3 394.9,310.3 395.3,310.1 395.7,310.3 396.2,311.7 396.6,312.0 397.1,311.7 397.5,313.0 397.9,313.1 398.4,313.7 398.8,314.0 399.3,314.7 399.7,315.0 400.1,315.3 400.5,314.7 400.9,315.4 401.3,315.4 401.7,315.8 402.1,315.6 402.5,316.3 402.9,316.1 403.3,315.9 403.7,316.0 404.1,316.1 404.5,316.6 405.0,316.1 405.4,316.7 405.9,316.4 406.3,316.9 406.7,317.0 407.2,317.1 407.6,317.6 408.1,316.6 408.5,317.7 408.9,319.3 409.4,321.5 409.8,323.7 410.3,322.1 410.7,319.8 411.2,318.1 411.6,318.5 412.0,317.2 412.5,317.6 412.9,317.3 413.3,316.4 413.7,316.8 414.2,316.6 414.6,316.7 415.0,315.7 415.4,315.9 415.9,314.8 416.3,314.2 416.7,314.1 417.2,312.5 417.6,312.8 418.0,312.4 418.5,311.8 418.9,312.2 419.3,311.3 419.8,311.2 420.2,311.0 420.6,311.0 421.0,310.1 421.5,310.1 421.9,309.8 422.3,309.8 422.7,310.0 423.1,309.2 423.5,309.7 423.9,309.1 424.3,309.1 424.7,308.7 425.1,308.8 425.5,309.2 425.9,308.7 426.3,308.7 426.7,308.0 427.1,307.9 427.5,307.7 427.9,307.8 428.4,307.7 428.8,307.7 429.2,306.6 429.6,307.2 430.1,307.2 430.5,306.6 430.9,305.9 431.4,306.5 431.8,306.4 432.3,306.9 432.7,310.8 433.1,313.4 433.6,313.3 434.0,313.2 434.4,313.2 434.9,312.6 435.3,313.1 435.8,313.5 436.2,314.0 436.6,314.3 437.0,314.9 437.5,314.7 437.9,315.7 438.3,315.9 438.8,316.7 439.2,316.3 439.6,316.7 440.1,316.8 440.5,317.9 440.9,318.3 441.4,318.3 441.8,318.2 442.2,319.0 442.6,319.2 443.1,319.2 443.5,319.1 443.9,319.4 444.4,319.8 444.8,320.0 445.2,320.4 445.6,320.9 446.1,321.5 446.5,320.7 446.9,321.6 447.4,321.2 447.8,321.5 448.2,321.9 448.6,321.2 449.1,321.2 449.5,320.1 449.9,319.8 450.4,320.4 450.8,320.8 451.2,321.3 451.7,321.5 452.1,321.1 452.6,320.1 453.0,318.9 453.4,318.6 453.9,317.3 454.3,318.1 454.8,318.8 455.2,319.6 455.6,321.3 456.1,318.5 456.5,317.4 456.9,315.9 457.4,316.5 457.8,315.3 458.2,314.8 458.6,315.3 459.1,314.3 459.5,314.6 459.9,313.6 460.3,313.0 460.8,313.5 461.2,313.1 461.6,312.9 462.0,312.6 462.5,311.6 462.9,312.0 463.3,311.9 463.8,311.4 464.2,311.7 464.6,310.7 465.1,311.3 465.5,310.8 465.9,309.7 466.4,309.5 466.8,310.1 467.2,310.1 467.6,309.0 468.1,309.1 468.5,309.4 468.9,308.5 469.3,309.1 469.8,308.5 470.2,307.8 470.6,307.9 471.1,309.1 471.5,309.8 472.0,310.9 472.4,311.1 472.9,312.8 473.3,313.1 473.7,314.3 474.2,315.2 474.6,315.8 475.0,316.5 475.5,317.8 475.9,318.7 476.3,319.3 476.7,319.8 477.1,320.2 477.6,320.7 478.0,322.6 478.6,324.8 479.2,327.5 479.8,325.6 480.3,324.6 480.7,325.6 481.1,325.9 481.6,326.1 482.0,326.2 482.4,326.9 482.8,327.9 483.3,327.8 483.7,328.6 484.1,329.0 484.5,329.7 485.0,329.9 485.4,329.6 485.8,329.6 486.2,330.2 486.6,330.8 487.1,331.3 487.5,331.9 487.9,332.1 488.4,331.3 488.8,332.4 489.2,332.5 489.7,332.8 490.1,332.6 490.6,332.4 491.0,333.2 491.4,332.2 491.9,331.1 492.3,330.4 492.7,328.8 493.2,327.6 493.6,327.2 494.0,327.1 494.5,326.1 494.9,326.4 495.3,326.3 495.7,325.2 496.1,325.3 496.6,325.0 497.0,324.5 497.4,323.7 497.9,323.4 498.3,323.6 498.7,323.2 499.2,322.4 499.6,321.5 500.1,323.0 500.5,323.6 500.9,323.6 501.4,324.6 501.8,323.3 502.2,321.6 502.6,320.8 503.1,320.4 503.5,320.2 503.9,319.4 504.4,319.1 504.8,318.8 505.3,319.1 505.7,318.3 506.1,318.4 506.6,318.0 507.0,318.0 507.4,317.4 507.9,317.1 508.3,318.1 508.7,317.2 509.1,316.7 509.6,317.1 510.0,317.1" fill="none" stroke="#111" stroke-width="1.4" stroke-linejoin="round"/>
<rect x="353.4" y="374.3" width="19.6" height="10.0" fill="rgb(88,245,248)" fill-opacity="0.27"/>
<line x1="353.4" y1="374.7" x2="373.0" y2="374.7" stroke="#8aa" stroke-width="0.8" stroke-dasharray="1.5,1" stroke-opacity="0.8"/>
<line x1="353.8" y1="374.3" x2="353.8" y2="384.3" stroke="#8cc" stroke-width="0.6" stroke-opacity="0.5"/>
<rect x="393.0" y="359.3" width="19.6" height="25.0" fill="rgb(88,245,248)" fill-opacity="0.27"/>
<line x1="393.0" y1="359.7" x2="412.6" y2="359.7" stroke="#8aa" stroke-width="0.8" stroke-dasharray="1.5,1" stroke-opacity="0.8"/>
<line x1="393.4" y1="359.3" x2="393.4" y2="384.3" stroke="#8cc" stroke-width="0.6" stroke-opacity="0.5"/>
<rect x="432.6" y="334.3" width="19.6" height="50.0" fill="rgb(88,245,248)" fill-opacity="0.27"/>
<line x1="432.6" y1="334.7" x2="452.2" y2="334.7" stroke="#8aa" stroke-width="0.8" stroke-dasharray="1.5,1" stroke-opacity="0.8"/>
<line x1="433.0" y1="334.3" x2="433.0" y2="384.3" stroke="#8cc" stroke-width="0.6" stroke-opacity="0.5"/>
<rect x="471.9" y="284.4" width="19.6" height="99.9" fill="rgb(88,245,248)" fill-opacity="0.27"/>
<line x1="471.9" y1="284.8" x2="491.5" y2="284.8" stroke="#8aa" stroke-width="0.8" stroke-dasharray="1.5,1" stroke-opacity="0.8"/>
<line x1="472.3" y1="284.4" x2="472.3" y2="384.3" stroke="#8cc" stroke-width="0.6" stroke-opacity="0.5"/>
<line x1="324.0" y1="383.7" x2="510.0" y2="383.7" stroke="#8cc8d8" stroke-width="1"/>
<rect x="324.0" y="234.4" width="186.0" height="149.9" fill="none" stroke="#7a7a7a" stroke-width="1.3"/>
<line x1="324.0" y1="384.3" x2="510.0" y2="384.3" stroke="#4e5e66" stroke-width="1.2"/>
<line x1="321.0" y1="384.3" x2="324.0" y2="384.3" stroke="#5a5a5a" stroke-width="1"/>
<text x="319.0" y="387.9" font-size="10" text-anchor="end" fill="#1e1e1e">400M</text>
<line x1="321.0" y1="309.4" x2="324.0" y2="309.4" stroke="#5a5a5a" stroke-width="1"/>
<text x="319.0" y="313.0" font-size="10" text-anchor="end" fill="#1e1e1e">450M</text>
<line x1="321.0" y1="234.4" x2="324.0" y2="234.4" stroke="#5a5a5a" stroke-width="1"/>
<text x="319.0" y="238.0" font-size="10" text-anchor="end" fill="#1e1e1e">500M</text>
<line x1="322.2" y1="346.8" x2="324.0" y2="346.8" stroke="#5a5a5a" stroke-width="1"/>
<line x1="322.2" y1="271.9" x2="324.0" y2="271.9" stroke="#5a5a5a" stroke-width="1"/>
<line x1="510.0" y1="384.3" x2="513.0" y2="384.3" stroke="#5a5a5a" stroke-width="1"/>
<text x="515.2" y="387.9" font-size="10" fill="#1e1e1e">0</text>
<line x1="510.0" y1="334.3" x2="513.0" y2="334.3" stroke="#5a5a5a" stroke-width="1"/>
<text x="515.2" y="337.9" font-size="10" fill="#1e1e1e">10</text>
<line x1="510.0" y1="284.4" x2="513.0" y2="284.4" stroke="#5a5a5a" stroke-width="1"/>
<text x="515.2" y="288.0" font-size="10" fill="#1e1e1e">20</text>
<line x1="510.0" y1="234.4" x2="513.0" y2="234.4" stroke="#5a5a5a" stroke-width="1"/>
<text x="515.2" y="238.0" font-size="10" fill="#1e1e1e">30</text>
<line x1="510.0" y1="359.3" x2="511.8" y2="359.3" stroke="#5a5a5a" stroke-width="1"/>
<line x1="510.0" y1="309.4" x2="511.8" y2="309.4" stroke="#5a5a5a" stroke-width="1"/>
<line x1="510.0" y1="259.4" x2="511.8" y2="259.4" stroke="#5a5a5a" stroke-width="1"/>
<line x1="353.4" y1="384.3" x2="353.4" y2="387.3" stroke="#5a5a5a" stroke-width="1"/>
<text x="353.4" y="397.5" font-size="10" text-anchor="middle" fill="#1e1e1e">60</text>
<line x1="392.6" y1="384.3" x2="392.6" y2="387.3" stroke="#5a5a5a" stroke-width="1"/>
<text x="392.6" y="397.5" font-size="10" text-anchor="middle" fill="#1e1e1e">120</text>
<line x1="431.7" y1="384.3" x2="431.7" y2="387.3" stroke="#5a5a5a" stroke-width="1"/>
<text x="431.7" y="397.5" font-size="10" text-anchor="middle" fill="#1e1e1e">180</text>
<line x1="470.9" y1="384.3" x2="470.9" y2="387.3" stroke="#5a5a5a" stroke-width="1"/>
<text x="470.9" y="397.5" font-size="10" text-anchor="middle" fill="#1e1e1e">240</text>
<line x1="510.0" y1="384.3" x2="510.0" y2="387.3" stroke="#5a5a5a" stroke-width="1"/>
<text x="510.0" y="397.5" font-size="10" text-anchor="middle" fill="#1e1e1e">300</text>
<line x1="333.8" y1="384.3" x2="333.8" y2="386.1" stroke="#5a5a5a" stroke-width="1"/>
<line x1="373.0" y1="384.3" x2="373.0" y2="386.1" stroke="#5a5a5a" stroke-width="1"/>
<line x1="412.1" y1="384.3" x2="412.1" y2="386.1" stroke="#5a5a5a" stroke-width="1"/>
<line x1="451.3" y1="384.3" x2="451.3" y2="386.1" stroke="#5a5a5a" stroke-width="1"/>
<line x1="490.4" y1="384.3" x2="490.4" y2="386.1" stroke="#5a5a5a" stroke-width="1"/>
<text x="417.0" y="415.9" font-size="12.7" text-anchor="middle" fill="#1e1e1e">Time (min)</text>
<text transform="translate(289.4,309.5) rotate(-90)" font-size="12.7" text-anchor="middle" fill="#1e1e1e">Resistance (&#937;)</text>
<text transform="translate(540.4,309.7) rotate(-90)" font-size="12.8" text-anchor="middle" fill="#1e1e1e">H<tspan font-size="8.5" dy="2.5">2</tspan><tspan dy="-2.5">S (ppm)</tspan></text>
<line x1="461.0" y1="246.1" x2="482.9" y2="246.1" stroke="#555" stroke-width="1.3"/>
<text x="485.5" y="249.2" font-size="9.5" fill="#1e1e1e">WS<tspan font-size="6.6" dy="2.5">2</tspan></text>
<text x="5.7" y="432.8" font-size="14.5" fill="#1e1e1e">(e)</text>
<polyline points="50.5,478.2 51.1,476.3 51.8,480.8 52.4,476.0 53.1,479.2 53.7,476.4 54.3,480.0 55.0,476.6 55.6,480.9 56.3,477.7 56.9,479.4 57.5,477.1 58.2,480.9 58.8,478.5 59.4,480.6 60.0,477.8 60.7,481.2 61.3,478.1 61.9,481.3 62.5,479.5 63.2,482.4 63.8,480.0 64.5,481.9 65.2,479.1 65.9,481.7 66.6,479.5 67.3,484.4 67.9,478.0 68.5,480.4 69.0,475.1 69.7,484.6 70.4,487.8 71.6,484.6 72.3,482.8 73.0,487.8 73.6,481.3 74.3,486.0 75.0,483.8 75.7,486.7 76.4,485.4 77.1,488.3 77.8,485.7 78.5,489.0 79.1,485.5 79.7,489.8 80.3,485.0 80.9,487.8 81.5,484.6 82.1,486.4 82.7,484.1 83.3,486.1 83.9,482.7 84.5,488.4 85.1,482.4 85.7,484.9 86.3,482.4 86.9,484.3 87.5,481.0 88.2,483.4 88.8,478.5 89.4,483.1 90.0,481.2 90.6,482.7 91.5,476.4 92.0,479.0 92.6,480.4 93.2,489.1 94.1,482.5 94.9,480.6 95.6,478.3 96.2,480.2 96.8,478.4 97.5,480.8 98.2,478.5 98.8,481.7 99.4,479.7 100.1,481.9 100.7,480.4 101.4,482.6 102.0,480.1 102.6,482.9 103.2,481.4 103.9,484.0 104.5,481.7 105.1,484.7 105.7,480.9 106.4,485.8 107.0,484.2 107.7,487.0 108.3,484.6 109.0,487.1 109.6,485.6 110.2,488.5 110.9,485.7 111.5,491.1 112.2,486.7 113.1,486.6 114.0,480.0 114.8,484.9 115.7,487.4 116.5,496.7 117.3,490.4 118.2,491.1 118.8,487.6 119.5,488.4 120.1,485.0 120.7,486.1 121.3,482.4 122.0,483.6 122.6,480.0 123.3,482.7 124.0,479.2 124.6,481.4 125.3,478.0 126.0,480.1 126.7,477.1 127.4,478.9 128.1,475.6 128.8,478.5 129.5,475.7 130.2,477.9 130.9,474.7 131.6,476.7 132.3,473.6 133.0,475.7 133.7,473.5 134.4,475.8 135.0,471.8 135.7,475.0 136.4,469.2 137.2,473.3 138.1,468.8 139.0,483.6 140.0,475.5 140.7,478.8 141.3,477.1 142.0,480.2 142.6,477.9 143.3,481.2 143.9,478.9 144.6,481.1 145.2,479.7 145.8,481.9 146.5,479.9 147.1,482.4 147.7,480.0 148.3,483.3 148.9,480.6 149.6,483.9 150.2,481.7 150.8,484.2 151.4,482.3 152.0,487.1 152.6,482.6 153.2,486.0 153.9,483.9 154.5,486.2 155.1,484.6 155.7,487.5 156.4,485.4 157.0,487.6 157.6,485.9 158.3,486.8 158.9,482.3 159.6,482.6 160.3,477.4 161.2,476.2 162.0,481.6 162.6,483.7 163.2,476.6 163.8,477.1 164.4,471.2 165.0,476.3 165.7,472.9 166.3,475.8 166.9,472.7 167.5,475.4 168.1,472.8 168.8,474.9 169.4,472.3 170.0,474.6 170.6,471.7 171.3,474.5 171.9,472.1 172.5,474.4 173.2,472.2 173.8,473.9 174.5,471.0 175.1,473.5 175.7,469.4 176.4,473.8 177.0,470.5 177.7,473.6 178.3,470.9 179.0,473.6 179.7,470.9 180.3,473.1 181.0,470.4 181.6,472.6 182.3,470.6 183.0,473.5 183.7,468.0 184.3,479.4 185.0,481.1 185.8,481.9 186.7,476.1 187.3,479.3 187.9,476.6 188.6,480.1 189.2,477.1 189.8,481.0 190.4,478.8 191.0,481.4 191.7,479.7 192.3,482.5 192.9,480.4 193.5,485.1 194.2,480.6 194.8,485.8 195.4,481.3 196.0,484.8 196.7,482.4 197.3,485.1 198.0,480.8 198.7,481.5 199.3,477.4 200.0,477.8 200.6,475.0 201.3,476.7 201.9,473.6 202.5,477.6 203.1,473.2 203.8,475.0 204.4,472.5 205.2,473.5 205.9,468.2 206.7,472.4 207.5,476.6 208.2,478.4 209.0,470.7 209.7,473.5 210.3,469.9 210.9,472.7 211.5,469.7 212.1,473.3 212.8,470.2 213.4,472.2 214.0,469.4 214.6,472.7 215.2,470.1 215.8,471.8 216.5,470.2 217.1,472.4 217.8,470.7 218.4,472.9 219.1,470.8 219.8,473.8 220.4,472.2 221.1,474.2 221.8,472.9 222.4,475.9 223.1,473.8 223.8,476.1 224.4,474.0 225.1,477.0 225.7,475.0 226.4,478.8 227.1,474.3 227.8,476.2 228.4,473.5 229.1,475.1 229.9,477.1 230.8,486.5 231.7,481.4 232.6,480.5 233.2,478.7 233.9,481.9 234.6,479.1 235.2,481.9 235.8,480.4 236.5,483.2" fill="none" stroke="#111" stroke-width="1.6" stroke-linejoin="round"/>
<rect x="79.9" y="583.3" width="19.6" height="10.0" fill="rgb(88,245,248)" fill-opacity="0.27"/>
<line x1="79.9" y1="583.7" x2="99.5" y2="583.7" stroke="#8aa" stroke-width="0.8" stroke-dasharray="1.5,1" stroke-opacity="0.8"/>
<line x1="80.3" y1="583.3" x2="80.3" y2="593.3" stroke="#8cc" stroke-width="0.6" stroke-opacity="0.5"/>
<rect x="119.5" y="568.3" width="19.6" height="25.0" fill="rgb(88,245,248)" fill-opacity="0.27"/>
<line x1="119.5" y1="568.7" x2="139.1" y2="568.7" stroke="#8aa" stroke-width="0.8" stroke-dasharray="1.5,1" stroke-opacity="0.8"/>
<line x1="119.9" y1="568.3" x2="119.9" y2="593.3" stroke="#8cc" stroke-width="0.6" stroke-opacity="0.5"/>
<rect x="159.1" y="543.4" width="19.6" height="49.9" fill="rgb(88,245,248)" fill-opacity="0.27"/>
<line x1="159.1" y1="543.8" x2="178.7" y2="543.8" stroke="#8aa" stroke-width="0.8" stroke-dasharray="1.5,1" stroke-opacity="0.8"/>
<line x1="159.5" y1="543.4" x2="159.5" y2="593.3" stroke="#8cc" stroke-width="0.6" stroke-opacity="0.5"/>
<rect x="198.4" y="493.4" width="19.6" height="99.9" fill="rgb(88,245,248)" fill-opacity="0.27"/>
<line x1="198.4" y1="493.8" x2="218.0" y2="493.8" stroke="#8aa" stroke-width="0.8" stroke-dasharray="1.5,1" stroke-opacity="0.8"/>
<line x1="198.8" y1="493.4" x2="198.8" y2="593.3" stroke="#8cc" stroke-width="0.6" stroke-opacity="0.5"/>
<line x1="50.5" y1="592.7" x2="236.5" y2="592.7" stroke="#8cc8d8" stroke-width="1"/>
<rect x="50.5" y="443.5" width="186.0" height="149.8" fill="none" stroke="#7a7a7a" stroke-width="1.3"/>
<line x1="50.5" y1="593.3" x2="236.5" y2="593.3" stroke="#4e5e66" stroke-width="1.2"/>
<line x1="47.5" y1="593.3" x2="50.5" y2="593.3" stroke="#5a5a5a" stroke-width="1"/>
<text x="45.5" y="596.9" font-size="10" text-anchor="end" fill="#1e1e1e">38.5M</text>
<line x1="47.5" y1="518.4" x2="50.5" y2="518.4" stroke="#5a5a5a" stroke-width="1"/>
<text x="45.5" y="522.0" font-size="10" text-anchor="end" fill="#1e1e1e">39.0M</text>
<line x1="47.5" y1="443.5" x2="50.5" y2="443.5" stroke="#5a5a5a" stroke-width="1"/>
<text x="45.5" y="447.1" font-size="10" text-anchor="end" fill="#1e1e1e">39.5M</text>
<line x1="48.7" y1="555.8" x2="50.5" y2="555.8" stroke="#5a5a5a" stroke-width="1"/>
<line x1="48.7" y1="480.9" x2="50.5" y2="480.9" stroke="#5a5a5a" stroke-width="1"/>
<line x1="236.5" y1="593.3" x2="239.5" y2="593.3" stroke="#5a5a5a" stroke-width="1"/>
<text x="241.7" y="596.9" font-size="10" fill="#1e1e1e">0</text>
<line x1="236.5" y1="543.4" x2="239.5" y2="543.4" stroke="#5a5a5a" stroke-width="1"/>
<text x="241.7" y="547.0" font-size="10" fill="#1e1e1e">5</text>
<line x1="236.5" y1="493.4" x2="239.5" y2="493.4" stroke="#5a5a5a" stroke-width="1"/>
<text x="241.7" y="497.0" font-size="10" fill="#1e1e1e">10</text>
<line x1="236.5" y1="443.5" x2="239.5" y2="443.5" stroke="#5a5a5a" stroke-width="1"/>
<text x="241.7" y="447.1" font-size="10" fill="#1e1e1e">15</text>
<line x1="236.5" y1="568.3" x2="238.3" y2="568.3" stroke="#5a5a5a" stroke-width="1"/>
<line x1="236.5" y1="518.4" x2="238.3" y2="518.4" stroke="#5a5a5a" stroke-width="1"/>
<line x1="236.5" y1="468.5" x2="238.3" y2="468.5" stroke="#5a5a5a" stroke-width="1"/>
<line x1="79.9" y1="593.3" x2="79.9" y2="596.3" stroke="#5a5a5a" stroke-width="1"/>
<text x="79.9" y="606.5" font-size="10" text-anchor="middle" fill="#1e1e1e">60</text>
<line x1="119.1" y1="593.3" x2="119.1" y2="596.3" stroke="#5a5a5a" stroke-width="1"/>
<text x="119.1" y="606.5" font-size="10" text-anchor="middle" fill="#1e1e1e">120</text>
<line x1="158.2" y1="593.3" x2="158.2" y2="596.3" stroke="#5a5a5a" stroke-width="1"/>
<text x="158.2" y="606.5" font-size="10" text-anchor="middle" fill="#1e1e1e">180</text>
<line x1="197.4" y1="593.3" x2="197.4" y2="596.3" stroke="#5a5a5a" stroke-width="1"/>
<text x="197.4" y="606.5" font-size="10" text-anchor="middle" fill="#1e1e1e">240</text>
<line x1="236.5" y1="593.3" x2="236.5" y2="596.3" stroke="#5a5a5a" stroke-width="1"/>
<text x="236.5" y="606.5" font-size="10" text-anchor="middle" fill="#1e1e1e">300</text>
<line x1="60.3" y1="593.3" x2="60.3" y2="595.0999999999999" stroke="#5a5a5a" stroke-width="1"/>
<line x1="99.5" y1="593.3" x2="99.5" y2="595.0999999999999" stroke="#5a5a5a" stroke-width="1"/>
<line x1="138.6" y1="593.3" x2="138.6" y2="595.0999999999999" stroke="#5a5a5a" stroke-width="1"/>
<line x1="177.8" y1="593.3" x2="177.8" y2="595.0999999999999" stroke="#5a5a5a" stroke-width="1"/>
<line x1="216.9" y1="593.3" x2="216.9" y2="595.0999999999999" stroke="#5a5a5a" stroke-width="1"/>
<text x="143.5" y="624.9" font-size="12.7" text-anchor="middle" fill="#1e1e1e">Time (min)</text>
<text transform="translate(13.2,518.5) rotate(-90)" font-size="12.7" text-anchor="middle" fill="#1e1e1e">Resistance (&#937;)</text>
<text transform="translate(266.3,518.7) rotate(-90)" font-size="12.8" text-anchor="middle" fill="#1e1e1e">CO (ppm)</text>
<line x1="181.1" y1="450.3" x2="203.1" y2="450.3" stroke="#111" stroke-width="1.3"/>
<text x="205.3" y="453.9" font-size="9.5" fill="#1e1e1e">MoS<tspan font-size="6.6" dy="2.5">2</tspan></text>
<text x="279.5" y="432.8" font-size="14.5" fill="#1e1e1e">(f)</text>
<polyline points="332.4,593.1 333.2,584.7 333.9,577.3 334.4,570.0 335.0,563.0 335.9,551.6 336.5,547.8 337.1,544.2 337.8,539.0 338.5,533.7 339.1,530.1 339.8,525.7 340.4,522.9 340.9,520.3 341.5,517.2 342.0,516.3 342.6,515.2 343.1,513.6 343.7,512.7 344.2,511.4 344.7,511.3 345.2,510.7 345.8,509.9 346.3,509.3 346.8,508.9 347.3,508.7 347.9,508.2 348.4,508.4 349.0,507.8 349.5,507.8 350.1,506.4 350.6,505.4 351.2,505.0 351.9,503.4 352.6,501.9 353.2,502.6 353.8,503.9 354.4,505.3 355.0,508.0 355.6,510.7 356.2,514.3 356.8,517.6 357.4,521.3 358.0,522.5 358.6,523.0 359.2,524.4 359.7,524.5 360.2,524.9 360.7,524.9 361.2,525.4 361.7,525.9 362.2,526.0 362.7,526.0 363.2,526.8 363.8,526.8 364.4,526.6 364.9,526.5 365.4,527.2 366.0,527.2 366.6,526.8 367.1,527.1 367.7,526.8 368.3,527.1 368.9,526.5 369.4,527.6 369.9,528.0 370.5,528.0 371.0,529.0 371.5,529.3 372.1,528.7 372.7,527.9 373.3,526.5 373.9,523.1 374.4,520.6 375.0,516.9 375.5,516.1 376.1,514.7 376.6,513.5 377.2,512.4 377.7,511.0 378.3,510.0 378.8,508.7 379.4,508.4 380.3,514.3 380.8,514.2 381.3,514.2 381.8,513.3 382.3,513.6 382.8,512.7 383.3,513.0 383.8,512.8 384.3,512.2 384.8,512.2 385.3,512.2 385.9,511.7 386.4,511.4 386.9,510.9 387.4,510.5 387.9,510.3 388.4,509.9 388.9,509.3 389.4,508.9 389.9,508.3 390.4,508.3 390.9,507.8 391.5,507.3 392.1,507.1 392.8,510.9 393.5,514.4 394.1,518.3 394.7,521.3 395.3,524.8 395.8,526.9 396.4,527.9 396.9,529.8 397.5,531.2 398.0,533.2 398.6,532.4 399.1,532.0 399.7,530.9 400.3,531.6 400.9,531.8 401.5,532.0 402.1,533.3 402.6,534.4 403.2,534.9 403.7,534.9 404.3,534.9 404.8,534.7 405.4,534.4 405.9,534.5 406.4,534.2 406.9,534.3 407.4,533.9 407.9,533.4 408.4,533.3 408.9,533.1 409.4,532.8 409.9,532.5 410.5,532.2 411.0,532.0 411.6,532.6 412.1,532.2 412.6,529.9 413.1,528.7 413.7,527.1 414.2,525.0 414.7,522.9 415.2,521.6 415.8,520.0 416.3,518.2 416.9,516.9 417.4,514.9 418.0,514.3 418.7,512.8 419.3,511.5 419.9,512.0 420.4,512.1 421.0,512.1 421.6,511.0 422.1,509.9 422.7,508.7 423.3,508.2 423.8,508.9 424.4,509.1 424.9,509.6 425.4,510.6 426.0,511.6 426.5,512.6 427.1,512.8 427.6,513.0 428.1,512.7 428.7,512.3 429.2,511.6 429.7,511.1 430.2,511.4 430.8,510.8 431.3,510.6 431.8,510.5 432.5,514.7 433.1,519.5 433.7,523.0 434.3,526.9 434.9,531.4 435.5,532.5 436.0,533.8 436.6,534.9 437.1,535.0 437.6,535.1 438.2,534.7 438.7,534.7 439.2,534.4 439.8,533.4 440.3,532.5 440.9,531.0 441.5,531.7 442.0,531.6 442.6,532.1 443.1,532.1 443.6,531.1 444.2,530.7 444.7,530.7 445.2,530.2 445.8,531.7 446.4,532.3 447.0,534.2 447.5,535.0 448.0,535.8 448.5,536.4 449.0,537.2 449.5,538.3 450.0,538.4 450.6,538.5 451.1,538.7 451.6,539.0 452.3,535.3 453.0,531.6 453.5,530.4 454.0,528.6 454.6,527.5 455.1,526.4 455.6,525.3 456.1,524.5 456.7,523.9 457.2,523.3 457.8,522.9 458.3,522.5 458.8,522.4 459.4,521.8 459.9,521.2 460.4,520.7 460.9,520.0 461.4,519.2 461.9,518.7 462.4,517.5 462.9,517.4 463.4,516.7 463.9,515.9 464.4,515.6 464.9,515.4 465.4,514.5 465.9,514.1 466.5,514.1 467.1,514.5 467.7,515.2 468.3,513.1 468.8,511.7 469.4,510.6 470.0,510.9 470.6,511.1 471.3,516.3 472.0,520.8 472.9,532.2 473.5,534.1 474.0,536.2 474.6,538.3 475.2,538.7 475.7,539.0 476.3,539.6 476.9,540.8 477.4,541.1 478.0,541.3 478.5,542.3 479.0,542.1 479.5,542.4 480.0,543.1 480.5,543.3 481.0,543.8 481.5,544.2 482.1,544.6 482.6,545.4 483.2,545.6 483.8,546.5 484.3,547.2 484.9,547.4 485.4,547.3 485.9,546.6 486.5,546.6 487.0,546.6 487.5,545.9 488.0,546.4 488.5,546.8 489.1,546.7 489.6,547.7 490.1,547.9 491.0,546.5 491.6,544.2 492.1,541.0 492.7,537.9 493.2,538.2 493.7,537.6 494.3,537.4 494.8,536.5 495.3,536.7 495.8,535.5 496.4,535.0 496.9,534.4 497.5,533.5 498.0,533.3 498.5,532.4 499.1,531.8 499.6,531.5 500.1,530.8 500.6,530.8 501.2,530.1 501.7,529.9 502.2,529.2 502.7,529.1 503.2,528.6 503.8,527.6 504.3,527.6 504.8,526.9 505.3,526.6 505.8,525.9 506.3,525.4 506.8,524.2 507.3,523.8 507.8,523.4 508.3,523.0 508.9,521.6 509.4,520.0 510.0,519.3" fill="none" stroke="#111" stroke-width="1.3" stroke-linejoin="round"/>
<rect x="353.4" y="583.3" width="19.6" height="10.0" fill="rgb(88,245,248)" fill-opacity="0.27"/>
<line x1="353.4" y1="583.7" x2="373.0" y2="583.7" stroke="#8aa" stroke-width="0.8" stroke-dasharray="1.5,1" stroke-opacity="0.8"/>
<line x1="353.8" y1="583.3" x2="353.8" y2="593.3" stroke="#8cc" stroke-width="0.6" stroke-opacity="0.5"/>
<rect x="393.0" y="568.3" width="19.6" height="25.0" fill="rgb(88,245,248)" fill-opacity="0.27"/>
<line x1="393.0" y1="568.7" x2="412.6" y2="568.7" stroke="#8aa" stroke-width="0.8" stroke-dasharray="1.5,1" stroke-opacity="0.8"/>
<line x1="393.4" y1="568.3" x2="393.4" y2="593.3" stroke="#8cc" stroke-width="0.6" stroke-opacity="0.5"/>
<rect x="432.6" y="543.4" width="19.6" height="49.9" fill="rgb(88,245,248)" fill-opacity="0.27"/>
<line x1="432.6" y1="543.8" x2="452.2" y2="543.8" stroke="#8aa" stroke-width="0.8" stroke-dasharray="1.5,1" stroke-opacity="0.8"/>
<line x1="433.0" y1="543.4" x2="433.0" y2="593.3" stroke="#8cc" stroke-width="0.6" stroke-opacity="0.5"/>
<rect x="471.9" y="493.4" width="19.6" height="99.9" fill="rgb(88,245,248)" fill-opacity="0.27"/>
<line x1="471.9" y1="493.8" x2="491.5" y2="493.8" stroke="#8aa" stroke-width="0.8" stroke-dasharray="1.5,1" stroke-opacity="0.8"/>
<line x1="472.3" y1="493.4" x2="472.3" y2="593.3" stroke="#8cc" stroke-width="0.6" stroke-opacity="0.5"/>
<line x1="324.0" y1="592.7" x2="510.0" y2="592.7" stroke="#8cc8d8" stroke-width="1"/>
<rect x="324.0" y="443.5" width="186.0" height="149.8" fill="none" stroke="#7a7a7a" stroke-width="1.3"/>
<line x1="324.0" y1="593.3" x2="510.0" y2="593.3" stroke="#4e5e66" stroke-width="1.2"/>
<line x1="321.0" y1="593.3" x2="324.0" y2="593.3" stroke="#5a5a5a" stroke-width="1"/>
<text x="319.0" y="596.9" font-size="10" text-anchor="end" fill="#1e1e1e">85M</text>
<line x1="321.0" y1="543.4" x2="324.0" y2="543.4" stroke="#5a5a5a" stroke-width="1"/>
<text x="319.0" y="547.0" font-size="10" text-anchor="end" fill="#1e1e1e">90M</text>
<line x1="321.0" y1="493.4" x2="324.0" y2="493.4" stroke="#5a5a5a" stroke-width="1"/>
<text x="319.0" y="497.0" font-size="10" text-anchor="end" fill="#1e1e1e">95M</text>
<line x1="321.0" y1="443.5" x2="324.0" y2="443.5" stroke="#5a5a5a" stroke-width="1"/>
<text x="319.0" y="447.1" font-size="10" text-anchor="end" fill="#1e1e1e">100M</text>
<line x1="322.2" y1="568.3" x2="324.0" y2="568.3" stroke="#5a5a5a" stroke-width="1"/>
<line x1="322.2" y1="518.4" x2="324.0" y2="518.4" stroke="#5a5a5a" stroke-width="1"/>
<line x1="322.2" y1="468.5" x2="324.0" y2="468.5" stroke="#5a5a5a" stroke-width="1"/>
<line x1="510.0" y1="593.3" x2="513.0" y2="593.3" stroke="#5a5a5a" stroke-width="1"/>
<text x="515.2" y="596.9" font-size="10" fill="#1e1e1e">0</text>
<line x1="510.0" y1="543.4" x2="513.0" y2="543.4" stroke="#5a5a5a" stroke-width="1"/>
<text x="515.2" y="547.0" font-size="10" fill="#1e1e1e">5</text>
<line x1="510.0" y1="493.4" x2="513.0" y2="493.4" stroke="#5a5a5a" stroke-width="1"/>
<text x="515.2" y="497.0" font-size="10" fill="#1e1e1e">10</text>
<line x1="510.0" y1="443.5" x2="513.0" y2="443.5" stroke="#5a5a5a" stroke-width="1"/>
<text x="515.2" y="447.1" font-size="10" fill="#1e1e1e">15</text>
<line x1="510.0" y1="568.3" x2="511.8" y2="568.3" stroke="#5a5a5a" stroke-width="1"/>
<line x1="510.0" y1="518.4" x2="511.8" y2="518.4" stroke="#5a5a5a" stroke-width="1"/>
<line x1="510.0" y1="468.5" x2="511.8" y2="468.5" stroke="#5a5a5a" stroke-width="1"/>
<line x1="353.4" y1="593.3" x2="353.4" y2="596.3" stroke="#5a5a5a" stroke-width="1"/>
<text x="353.4" y="606.5" font-size="10" text-anchor="middle" fill="#1e1e1e">60</text>
<line x1="392.6" y1="593.3" x2="392.6" y2="596.3" stroke="#5a5a5a" stroke-width="1"/>
<text x="392.6" y="606.5" font-size="10" text-anchor="middle" fill="#1e1e1e">120</text>
<line x1="431.7" y1="593.3" x2="431.7" y2="596.3" stroke="#5a5a5a" stroke-width="1"/>
<text x="431.7" y="606.5" font-size="10" text-anchor="middle" fill="#1e1e1e">180</text>
<line x1="470.9" y1="593.3" x2="470.9" y2="596.3" stroke="#5a5a5a" stroke-width="1"/>
<text x="470.9" y="606.5" font-size="10" text-anchor="middle" fill="#1e1e1e">240</text>
<line x1="510.0" y1="593.3" x2="510.0" y2="596.3" stroke="#5a5a5a" stroke-width="1"/>
<text x="510.0" y="606.5" font-size="10" text-anchor="middle" fill="#1e1e1e">300</text>
<line x1="333.8" y1="593.3" x2="333.8" y2="595.0999999999999" stroke="#5a5a5a" stroke-width="1"/>
<line x1="373.0" y1="593.3" x2="373.0" y2="595.0999999999999" stroke="#5a5a5a" stroke-width="1"/>
<line x1="412.1" y1="593.3" x2="412.1" y2="595.0999999999999" stroke="#5a5a5a" stroke-width="1"/>
<line x1="451.3" y1="593.3" x2="451.3" y2="595.0999999999999" stroke="#5a5a5a" stroke-width="1"/>
<line x1="490.4" y1="593.3" x2="490.4" y2="595.0999999999999" stroke="#5a5a5a" stroke-width="1"/>
<text x="417.0" y="624.9" font-size="12.7" text-anchor="middle" fill="#1e1e1e">Time (min)</text>
<text transform="translate(294.3,518.5) rotate(-90)" font-size="12.7" text-anchor="middle" fill="#1e1e1e">Resistance (&#937;)</text>
<text transform="translate(540.4,518.7) rotate(-90)" font-size="12.8" text-anchor="middle" fill="#1e1e1e">CO (ppm)</text>
<line x1="461.0" y1="452.0" x2="483.6" y2="452.0" stroke="#222" stroke-width="1.3"/>
<text x="485.5" y="455.4" font-size="9.5" fill="#1e1e1e">WS<tspan font-size="6.6" dy="2.5">2</tspan></text>
<text x="6.7" y="642.3" font-size="15.3" textLength="16.6" lengthAdjust="spacingAndGlyphs" font-family="Liberation Serif, serif" fill="#1e1e1e">(g)</text>
<polyline points="50.5,720.5 51.0,720.8 51.6,720.9 52.1,720.2 52.7,720.8 53.2,720.5 53.8,720.0 54.3,719.8 54.8,719.5 55.3,719.2 55.9,718.4 56.4,717.4 56.9,716.7 57.4,716.7 57.9,717.4 58.5,716.8 59.0,717.1 59.5,715.8 60.4,725.2 61.0,719.8 61.5,720.1 62.1,714.8 63.0,724.0 63.6,721.3 64.1,720.3 64.7,719.3 65.2,718.4 65.8,718.6 66.3,718.4 66.8,718.6 67.4,718.9 67.9,718.7 68.5,718.0 69.0,718.0 69.5,718.7 70.0,718.7 70.6,718.6 71.1,718.8 71.6,718.7 72.1,719.5 72.6,719.2 73.2,719.8 73.7,719.7 74.2,719.3 74.7,719.8 75.2,719.9 75.8,720.7 76.3,720.6 76.8,720.3 77.3,720.7 77.8,721.0 78.4,721.4 78.9,721.7 79.4,721.7 80.0,719.5 80.5,717.1 81.1,715.5 81.7,713.7 82.2,711.8 82.8,710.6 83.4,709.5 83.9,706.7 84.5,706.9 85.1,704.5 85.7,708.3 86.3,706.4 86.9,707.5 87.4,703.0 88.0,702.6 88.5,702.2 89.1,702.3 89.6,702.0 90.2,700.8 90.7,700.9 91.2,700.8 91.8,700.6 92.3,700.1 92.8,699.8 93.3,699.6 93.8,699.2 94.3,698.9 94.8,699.2 95.3,699.1 95.9,699.0 96.4,698.5 96.9,698.0 97.4,698.2 97.9,698.0 98.4,697.6 99.0,697.9 99.5,697.8 100.1,698.1 100.6,698.6 101.1,698.9 101.7,699.8 102.2,700.4 102.7,701.6 103.2,701.7 103.7,702.3 104.3,702.7 104.8,703.4 105.3,702.8 105.9,706.9 106.4,706.9 107.0,711.7 107.5,708.4 108.0,712.0 108.6,709.2 109.1,711.3 109.6,711.7 110.1,712.0 110.7,712.7 111.2,713.1 111.8,714.0 112.3,714.2 112.9,715.0 113.5,714.9 114.0,715.9 114.5,716.0 115.0,715.9 115.5,716.4 116.0,717.1 116.5,717.9 117.1,717.7 117.6,718.5 118.1,718.6 118.6,719.3 119.1,719.0 119.7,716.3 120.2,713.6 120.8,710.0 121.3,708.9 121.8,707.6 122.3,706.6 122.8,705.6 123.3,704.9 123.8,703.3 124.3,702.4 124.9,701.6 125.4,701.4 126.0,701.1 126.6,700.3 127.1,699.3 127.7,699.2 128.6,705.7 129.2,699.5 129.7,700.2 130.3,695.1 130.9,701.3 131.4,699.4 132.0,703.5 132.9,696.2 133.4,697.2 133.9,697.3 134.4,697.0 134.9,697.1 135.4,696.3 135.9,696.2 136.4,696.5 136.9,696.2 137.4,695.9 137.9,696.0 138.4,695.5 138.9,695.1 139.4,696.3 139.9,696.9 140.5,698.3 141.0,698.9 141.5,699.9 142.0,700.7 142.5,701.2 143.0,702.1 143.5,702.5 144.1,703.8 144.6,704.1 145.2,705.0 145.7,704.7 146.2,705.8 146.8,706.4 147.3,706.6 147.9,706.9 148.4,707.6 148.9,708.2 149.4,709.4 150.0,710.7 150.5,708.3 151.0,712.6 151.5,710.0 152.0,714.1 152.5,711.3 153.0,715.5 153.5,712.5 154.0,714.8 154.5,715.8 155.0,716.0 155.5,716.7 156.0,717.1 156.6,717.5 157.1,717.4 157.6,718.1 158.3,718.8 159.0,718.8 159.7,713.3 160.3,708.2 160.8,707.2 161.3,705.1 161.9,703.6 162.4,702.6 162.9,701.3 163.4,700.9 163.9,700.0 164.4,700.0 165.0,698.7 165.5,698.6 166.0,697.5 166.5,696.9 167.0,696.6 167.5,696.2 168.0,696.3 168.5,696.0 169.0,695.4 169.5,695.7 170.0,694.9 170.5,694.2 171.0,693.8 171.6,693.8 172.1,693.5 172.6,691.7 173.1,693.6 173.7,690.8 174.2,694.2 174.8,690.6 175.3,694.8 175.8,691.5 176.3,694.8 176.8,691.4 177.3,695.3 177.8,693.7 178.3,694.3 178.8,693.7 179.3,694.9 179.9,694.9 180.4,696.1 180.9,696.5 181.4,697.5 182.0,697.4 182.5,698.5 183.0,699.0 183.6,700.1 184.1,700.7 184.7,701.2 185.2,701.6 185.8,702.4 186.3,703.2 186.8,704.1 187.4,704.7 187.9,705.5 188.5,706.7 189.1,707.2 189.6,707.4 190.2,708.6 190.7,708.4 191.2,709.3 191.8,709.5 192.3,710.7 192.9,711.2 193.4,711.2 193.9,712.1 194.4,712.7 194.9,711.7 195.4,714.7 195.9,712.3 196.4,716.7 197.0,714.8 197.6,719.3 198.2,717.0 198.8,714.7 199.4,710.7 200.0,706.8 200.6,703.6 201.1,701.5 201.7,698.4 202.2,698.3 202.8,698.0 203.3,696.9 203.9,697.1 204.4,696.8 205.0,695.7 205.5,695.0 206.1,694.7 206.7,695.1 207.2,693.8 207.8,694.2 208.3,693.2 208.8,693.3 209.4,692.4 209.9,692.1 210.5,692.2 211.0,691.4 211.5,691.5 212.0,691.8 212.6,691.4 213.1,691.3 213.6,691.2 214.1,690.2 214.6,690.1 215.1,690.3 215.6,689.9 216.1,689.0 216.6,689.1 217.1,688.6 217.7,688.6 218.2,692.4 218.8,692.0 219.4,696.6 219.9,693.7 220.4,698.2 220.9,695.8 221.4,699.2 221.9,698.2 222.4,699.3 222.9,700.0 223.4,700.8 224.0,700.7 224.5,701.6 225.0,701.7 225.6,701.7 226.1,702.3 226.6,702.7 227.1,703.5 227.7,703.3 228.2,703.5 228.7,704.6 229.3,704.8 229.8,705.1 230.3,705.0 230.8,705.3 231.4,705.7 231.9,705.9 232.4,706.2 233.0,707.0 233.5,707.2 234.0,707.8 234.5,708.0 235.0,708.1 235.5,709.1 236.0,709.4 236.5,709.7" fill="none" stroke="#111" stroke-width="1.6" stroke-linejoin="round"/>
<rect x="79.9" y="791.8" width="19.6" height="9.9" fill="rgb(88,245,248)" fill-opacity="0.27"/>
<line x1="79.9" y1="792.2" x2="99.5" y2="792.2" stroke="#8aa" stroke-width="0.8" stroke-dasharray="1.5,1" stroke-opacity="0.8"/>
<line x1="80.3" y1="791.8" x2="80.3" y2="801.7" stroke="#8cc" stroke-width="0.6" stroke-opacity="0.5"/>
<rect x="119.5" y="781.8" width="19.6" height="19.9" fill="rgb(88,245,248)" fill-opacity="0.27"/>
<line x1="119.5" y1="782.2" x2="139.1" y2="782.2" stroke="#8aa" stroke-width="0.8" stroke-dasharray="1.5,1" stroke-opacity="0.8"/>
<line x1="119.9" y1="781.8" x2="119.9" y2="801.7" stroke="#8cc" stroke-width="0.6" stroke-opacity="0.5"/>
<rect x="159.1" y="752.0" width="19.6" height="49.7" fill="rgb(88,245,248)" fill-opacity="0.27"/>
<line x1="159.1" y1="752.4" x2="178.7" y2="752.4" stroke="#8aa" stroke-width="0.8" stroke-dasharray="1.5,1" stroke-opacity="0.8"/>
<line x1="159.5" y1="752.0" x2="159.5" y2="801.7" stroke="#8cc" stroke-width="0.6" stroke-opacity="0.5"/>
<rect x="198.4" y="702.2" width="19.6" height="99.5" fill="rgb(88,245,248)" fill-opacity="0.27"/>
<line x1="198.4" y1="702.6" x2="218.0" y2="702.6" stroke="#8aa" stroke-width="0.8" stroke-dasharray="1.5,1" stroke-opacity="0.8"/>
<line x1="198.8" y1="702.2" x2="198.8" y2="801.7" stroke="#8cc" stroke-width="0.6" stroke-opacity="0.5"/>
<line x1="50.5" y1="801.1" x2="236.5" y2="801.1" stroke="#8cc8d8" stroke-width="1"/>
<rect x="50.5" y="652.5" width="186.0" height="149.2" fill="none" stroke="#7a7a7a" stroke-width="1.3"/>
<line x1="50.5" y1="801.7" x2="236.5" y2="801.7" stroke="#4e5e66" stroke-width="1.2"/>
<line x1="47.5" y1="801.7" x2="50.5" y2="801.7" stroke="#5a5a5a" stroke-width="1"/>
<text x="45.5" y="805.3" font-size="10" text-anchor="end" fill="#1e1e1e">41.5M</text>
<line x1="47.5" y1="752.0" x2="50.5" y2="752.0" stroke="#5a5a5a" stroke-width="1"/>
<text x="45.5" y="755.6" font-size="10" text-anchor="end" fill="#1e1e1e">42.0M</text>
<line x1="47.5" y1="702.2" x2="50.5" y2="702.2" stroke="#5a5a5a" stroke-width="1"/>
<text x="45.5" y="705.8" font-size="10" text-anchor="end" fill="#1e1e1e">42.5M</text>
<line x1="47.5" y1="652.5" x2="50.5" y2="652.5" stroke="#5a5a5a" stroke-width="1"/>
<text x="45.5" y="656.1" font-size="10" text-anchor="end" fill="#1e1e1e">43.0M</text>
<line x1="48.7" y1="776.8" x2="50.5" y2="776.8" stroke="#5a5a5a" stroke-width="1"/>
<line x1="48.7" y1="727.1" x2="50.5" y2="727.1" stroke="#5a5a5a" stroke-width="1"/>
<line x1="48.7" y1="677.4" x2="50.5" y2="677.4" stroke="#5a5a5a" stroke-width="1"/>
<line x1="236.5" y1="801.7" x2="239.5" y2="801.7" stroke="#5a5a5a" stroke-width="1"/>
<text x="241.7" y="805.3" font-size="10" fill="#1e1e1e">0</text>
<line x1="236.5" y1="752.0" x2="239.5" y2="752.0" stroke="#5a5a5a" stroke-width="1"/>
<text x="241.7" y="755.6" font-size="10" fill="#1e1e1e">5</text>
<line x1="236.5" y1="702.2" x2="239.5" y2="702.2" stroke="#5a5a5a" stroke-width="1"/>
<text x="241.7" y="705.8" font-size="10" fill="#1e1e1e">10</text>
<line x1="236.5" y1="652.5" x2="239.5" y2="652.5" stroke="#5a5a5a" stroke-width="1"/>
<text x="241.7" y="656.1" font-size="10" fill="#1e1e1e">15</text>
<line x1="236.5" y1="776.8" x2="238.3" y2="776.8" stroke="#5a5a5a" stroke-width="1"/>
<line x1="236.5" y1="727.1" x2="238.3" y2="727.1" stroke="#5a5a5a" stroke-width="1"/>
<line x1="236.5" y1="677.4" x2="238.3" y2="677.4" stroke="#5a5a5a" stroke-width="1"/>
<line x1="79.9" y1="801.7" x2="79.9" y2="804.7" stroke="#5a5a5a" stroke-width="1"/>
<text x="79.9" y="814.9" font-size="10" text-anchor="middle" fill="#1e1e1e">60</text>
<line x1="119.1" y1="801.7" x2="119.1" y2="804.7" stroke="#5a5a5a" stroke-width="1"/>
<text x="119.1" y="814.9" font-size="10" text-anchor="middle" fill="#1e1e1e">120</text>
<line x1="158.2" y1="801.7" x2="158.2" y2="804.7" stroke="#5a5a5a" stroke-width="1"/>
<text x="158.2" y="814.9" font-size="10" text-anchor="middle" fill="#1e1e1e">180</text>
<line x1="197.4" y1="801.7" x2="197.4" y2="804.7" stroke="#5a5a5a" stroke-width="1"/>
<text x="197.4" y="814.9" font-size="10" text-anchor="middle" fill="#1e1e1e">240</text>
<line x1="236.5" y1="801.7" x2="236.5" y2="804.7" stroke="#5a5a5a" stroke-width="1"/>
<text x="236.5" y="814.9" font-size="10" text-anchor="middle" fill="#1e1e1e">300</text>
<line x1="60.3" y1="801.7" x2="60.3" y2="803.5" stroke="#5a5a5a" stroke-width="1"/>
<line x1="99.5" y1="801.7" x2="99.5" y2="803.5" stroke="#5a5a5a" stroke-width="1"/>
<line x1="138.6" y1="801.7" x2="138.6" y2="803.5" stroke="#5a5a5a" stroke-width="1"/>
<line x1="177.8" y1="801.7" x2="177.8" y2="803.5" stroke="#5a5a5a" stroke-width="1"/>
<line x1="216.9" y1="801.7" x2="216.9" y2="803.5" stroke="#5a5a5a" stroke-width="1"/>
<text x="143.5" y="833.3" font-size="12.7" text-anchor="middle" fill="#1e1e1e">Time (min)</text>
<text transform="translate(13.4,727.2) rotate(-90)" font-size="12.7" text-anchor="middle" fill="#1e1e1e">Resistance (&#937;)</text>
<text transform="translate(266.0,727.4) rotate(-90)" font-size="12.8" text-anchor="middle" fill="#1e1e1e">NH<tspan font-size="8.5" dy="2.5">3</tspan><tspan dy="-2.5"> (ppm)</tspan></text>
<line x1="184.8" y1="661.6" x2="206.7" y2="661.6" stroke="#111" stroke-width="1.3"/>
<text x="209.4" y="665.0" font-size="9.5" fill="#1e1e1e">MoS<tspan font-size="6.6" dy="2.5">2</tspan></text>
<text x="279.5" y="641.8" font-size="14.5" fill="#1e1e1e">(h)</text>
<polyline points="324.0,730.5 324.5,732.0 325.0,733.6 325.5,735.0 326.0,736.3 326.5,737.5 327.0,738.0 327.5,738.6 328.0,739.4 328.6,739.6 329.1,740.1 329.6,740.6 330.1,741.0 330.6,741.9 331.1,741.6 331.6,742.4 332.1,742.9 332.6,742.9 333.1,743.5 333.6,743.7 334.2,745.1 334.7,746.6 335.3,748.0 335.8,748.8 336.4,749.1 336.9,749.5 337.5,749.4 338.0,750.1 338.5,750.0 339.0,750.4 339.6,750.5 340.1,750.5 340.6,751.0 341.1,750.6 341.6,751.1 342.1,751.3 342.6,751.3 343.2,751.5 343.7,751.9 344.2,751.5 344.7,752.2 345.2,752.6 345.7,752.8 346.2,753.4 346.7,753.6 347.2,754.0 347.7,754.5 348.2,754.7 348.7,754.6 349.2,754.9 349.8,755.0 350.3,755.0 350.8,755.4 351.3,755.3 351.8,755.8 352.3,755.7 352.9,756.0 353.4,756.1 353.9,756.2 354.5,751.6 355.0,747.1 355.6,743.2 356.1,742.0 356.7,741.2 357.2,740.3 357.8,739.6 358.3,738.3 358.8,737.6 359.4,737.3 359.9,736.4 360.5,735.8 361.0,735.2 361.6,734.8 362.1,734.3 362.7,733.4 363.3,733.1 363.8,732.9 364.4,732.5 364.9,731.8 365.4,731.6 365.9,731.4 366.4,731.1 366.9,731.0 367.4,731.0 367.9,730.6 368.4,730.3 368.9,729.9 369.4,730.0 370.0,730.4 370.6,730.2 371.1,730.1 371.6,730.1 372.2,730.3 372.8,730.3 373.3,729.9 373.9,732.7 374.4,735.0 375.0,737.6 375.6,740.4 376.2,743.5 376.8,746.4 377.4,747.4 377.9,748.2 378.4,749.3 379.0,750.5 379.6,751.2 380.1,752.2 380.6,753.5 381.2,754.3 381.7,754.7 382.2,755.0 382.7,755.7 383.2,755.6 383.7,756.3 384.2,756.8 384.7,756.8 385.2,757.5 385.7,758.2 386.2,758.6 386.8,759.0 387.3,759.3 387.8,760.1 388.3,760.5 388.9,760.9 389.4,760.9 389.9,761.2 390.5,761.5 391.1,761.8 391.6,761.8 392.1,762.0 392.7,762.3 393.3,757.9 393.8,752.7 394.4,748.5 395.0,746.0 395.6,743.5 396.2,741.3 396.8,740.0 397.4,738.8 397.9,738.2 398.5,736.9 399.0,736.1 399.6,735.1 400.1,734.4 400.6,733.4 401.1,732.6 401.6,732.6 402.2,732.2 402.7,731.8 403.2,731.7 403.8,731.7 404.4,732.0 405.0,732.5 405.5,731.7 406.1,731.3 406.6,730.7 407.2,730.4 407.7,729.8 408.2,729.7 408.8,729.4 409.4,729.1 409.9,729.4 410.4,729.2 411.0,729.2 411.6,729.1 412.1,728.6 412.6,730.4 413.1,732.1 413.7,734.3 414.2,735.6 414.7,737.4 415.3,739.6 415.9,741.4 416.4,743.0 417.0,745.2 417.6,747.1 418.2,747.9 418.7,748.5 419.3,749.7 419.9,750.4 420.4,751.4 421.0,752.5 421.5,752.9 422.0,753.5 422.6,753.5 423.1,754.2 423.6,754.8 424.1,754.7 424.6,755.4 425.2,755.1 425.7,755.3 426.2,755.5 426.7,756.2 427.2,757.2 427.8,757.7 428.3,758.4 428.8,759.1 429.3,758.8 429.8,759.0 430.3,759.3 430.8,759.3 431.3,759.3 431.8,759.0 432.5,750.3 433.1,741.5 433.7,737.2 434.3,732.5 434.9,728.0 435.4,726.1 435.9,724.3 436.5,722.2 437.0,720.6 437.5,718.3 438.1,717.8 438.6,716.5 439.2,715.2 439.8,714.4 440.3,713.5 440.9,712.4 441.4,711.9 442.0,711.1 442.5,710.4 443.0,710.1 443.6,709.1 444.1,708.7 444.7,708.1 445.2,707.4 445.7,706.8 446.2,706.5 446.8,705.7 447.3,705.4 447.8,704.4 448.4,705.2 448.9,705.9 449.5,706.1 450.0,706.5 450.6,705.9 451.1,706.1 451.6,705.7 452.2,709.1 452.8,711.8 453.3,714.9 453.9,717.6 454.4,719.8 454.9,721.9 455.5,723.7 456.0,725.7 456.5,728.2 457.1,729.2 457.6,731.1 458.2,732.1 458.8,733.5 459.3,734.9 459.9,736.8 460.4,737.7 460.9,738.3 461.5,739.3 462.0,739.9 462.5,741.2 463.0,741.9 463.5,742.5 464.1,743.3 464.6,744.5 465.1,745.0 465.6,746.4 466.1,746.9 466.7,747.7 467.2,748.8 467.7,749.5 468.3,749.9 468.8,749.9 469.4,750.6 470.0,750.0 470.5,750.1 471.1,749.4 472.0,736.8 472.6,730.6 473.1,723.9 473.7,717.3 474.2,715.5 474.7,713.6 475.3,711.3 475.8,709.4 476.3,707.1 476.8,706.5 477.3,706.0 477.8,705.0 478.3,704.4 478.8,703.4 479.3,703.0 479.8,701.9 480.3,702.1 480.9,701.9 481.4,701.6 482.0,701.1 482.5,700.7 483.0,700.4 483.6,700.4 484.1,700.0 484.6,700.3 485.1,699.9 485.7,700.2 486.2,700.5 486.7,700.4 487.2,700.4 487.7,700.2 488.3,700.3 488.8,700.5 489.3,700.9 489.9,701.1 490.4,700.9 491.0,701.5 491.6,704.1 492.1,707.6 492.7,711.0 493.2,713.0 493.7,715.8 494.3,718.1 494.8,720.1 495.3,722.7 495.8,724.5 496.3,726.1 496.9,728.2 497.4,729.6 497.9,731.7 498.4,732.5 498.9,733.4 499.4,734.8 499.9,735.7 500.4,737.0 500.9,738.3 501.4,739.3 502.0,740.2 502.5,741.0 503.1,742.3 503.7,743.0 504.2,744.4 504.8,745.1 505.3,745.9 505.8,746.4 506.4,747.0 506.9,747.8 507.4,748.1 507.9,748.7 508.4,749.8 509.0,750.0 509.5,750.9 510.0,751.5" fill="none" stroke="#111" stroke-width="1.4" stroke-linejoin="round"/>
<rect x="353.4" y="791.8" width="19.6" height="9.9" fill="rgb(88,245,248)" fill-opacity="0.27"/>
<line x1="353.4" y1="792.2" x2="373.0" y2="792.2" stroke="#8aa" stroke-width="0.8" stroke-dasharray="1.5,1" stroke-opacity="0.8"/>
<line x1="353.8" y1="791.8" x2="353.8" y2="801.7" stroke="#8cc" stroke-width="0.6" stroke-opacity="0.5"/>
<rect x="393.0" y="781.8" width="19.6" height="19.9" fill="rgb(88,245,248)" fill-opacity="0.27"/>
<line x1="393.0" y1="782.2" x2="412.6" y2="782.2" stroke="#8aa" stroke-width="0.8" stroke-dasharray="1.5,1" stroke-opacity="0.8"/>
<line x1="393.4" y1="781.8" x2="393.4" y2="801.7" stroke="#8cc" stroke-width="0.6" stroke-opacity="0.5"/>
<rect x="432.6" y="752.0" width="19.6" height="49.7" fill="rgb(88,245,248)" fill-opacity="0.27"/>
<line x1="432.6" y1="752.4" x2="452.2" y2="752.4" stroke="#8aa" stroke-width="0.8" stroke-dasharray="1.5,1" stroke-opacity="0.8"/>
<line x1="433.0" y1="752.0" x2="433.0" y2="801.7" stroke="#8cc" stroke-width="0.6" stroke-opacity="0.5"/>
<rect x="471.9" y="702.2" width="19.6" height="99.5" fill="rgb(88,245,248)" fill-opacity="0.27"/>
<line x1="471.9" y1="702.6" x2="491.5" y2="702.6" stroke="#8aa" stroke-width="0.8" stroke-dasharray="1.5,1" stroke-opacity="0.8"/>
<line x1="472.3" y1="702.2" x2="472.3" y2="801.7" stroke="#8cc" stroke-width="0.6" stroke-opacity="0.5"/>
<line x1="324.0" y1="801.1" x2="510.0" y2="801.1" stroke="#8cc8d8" stroke-width="1"/>
<rect x="324.0" y="652.5" width="186.0" height="149.2" fill="none" stroke="#7a7a7a" stroke-width="1.3"/>
<line x1="324.0" y1="801.7" x2="510.0" y2="801.7" stroke="#4e5e66" stroke-width="1.2"/>
<line x1="321.0" y1="801.7" x2="324.0" y2="801.7" stroke="#5a5a5a" stroke-width="1"/>
<text x="319.0" y="805.3" font-size="10" text-anchor="end" fill="#1e1e1e">75M</text>
<line x1="321.0" y1="727.1" x2="324.0" y2="727.1" stroke="#5a5a5a" stroke-width="1"/>
<text x="319.0" y="730.7" font-size="10" text-anchor="end" fill="#1e1e1e">100M</text>
<line x1="321.0" y1="652.5" x2="324.0" y2="652.5" stroke="#5a5a5a" stroke-width="1"/>
<text x="319.0" y="656.1" font-size="10" text-anchor="end" fill="#1e1e1e">125M</text>
<line x1="322.2" y1="786.8" x2="324.0" y2="786.8" stroke="#5a5a5a" stroke-width="1"/>
<line x1="322.2" y1="771.9" x2="324.0" y2="771.9" stroke="#5a5a5a" stroke-width="1"/>
<line x1="322.2" y1="756.9" x2="324.0" y2="756.9" stroke="#5a5a5a" stroke-width="1"/>
<line x1="322.2" y1="742.0" x2="324.0" y2="742.0" stroke="#5a5a5a" stroke-width="1"/>
<line x1="322.2" y1="712.2" x2="324.0" y2="712.2" stroke="#5a5a5a" stroke-width="1"/>
<line x1="322.2" y1="697.3" x2="324.0" y2="697.3" stroke="#5a5a5a" stroke-width="1"/>
<line x1="322.2" y1="682.3" x2="324.0" y2="682.3" stroke="#5a5a5a" stroke-width="1"/>
<line x1="322.2" y1="667.4" x2="324.0" y2="667.4" stroke="#5a5a5a" stroke-width="1"/>
<line x1="510.0" y1="801.7" x2="513.0" y2="801.7" stroke="#5a5a5a" stroke-width="1"/>
<text x="515.2" y="805.3" font-size="10" fill="#1e1e1e">0</text>
<line x1="510.0" y1="752.0" x2="513.0" y2="752.0" stroke="#5a5a5a" stroke-width="1"/>
<text x="515.2" y="755.6" font-size="10" fill="#1e1e1e">5</text>
<line x1="510.0" y1="702.2" x2="513.0" y2="702.2" stroke="#5a5a5a" stroke-width="1"/>
<text x="515.2" y="705.8" font-size="10" fill="#1e1e1e">10</text>
<line x1="510.0" y1="652.5" x2="513.0" y2="652.5" stroke="#5a5a5a" stroke-width="1"/>
<text x="515.2" y="656.1" font-size="10" fill="#1e1e1e">15</text>
<line x1="510.0" y1="776.8" x2="511.8" y2="776.8" stroke="#5a5a5a" stroke-width="1"/>
<line x1="510.0" y1="727.1" x2="511.8" y2="727.1" stroke="#5a5a5a" stroke-width="1"/>
<line x1="510.0" y1="677.4" x2="511.8" y2="677.4" stroke="#5a5a5a" stroke-width="1"/>
<line x1="353.4" y1="801.7" x2="353.4" y2="804.7" stroke="#5a5a5a" stroke-width="1"/>
<text x="353.4" y="814.9" font-size="10" text-anchor="middle" fill="#1e1e1e">60</text>
<line x1="392.6" y1="801.7" x2="392.6" y2="804.7" stroke="#5a5a5a" stroke-width="1"/>
<text x="392.6" y="814.9" font-size="10" text-anchor="middle" fill="#1e1e1e">120</text>
<line x1="431.7" y1="801.7" x2="431.7" y2="804.7" stroke="#5a5a5a" stroke-width="1"/>
<text x="431.7" y="814.9" font-size="10" text-anchor="middle" fill="#1e1e1e">180</text>
<line x1="470.9" y1="801.7" x2="470.9" y2="804.7" stroke="#5a5a5a" stroke-width="1"/>
<text x="470.9" y="814.9" font-size="10" text-anchor="middle" fill="#1e1e1e">240</text>
<line x1="510.0" y1="801.7" x2="510.0" y2="804.7" stroke="#5a5a5a" stroke-width="1"/>
<text x="510.0" y="814.9" font-size="10" text-anchor="middle" fill="#1e1e1e">300</text>
<line x1="333.8" y1="801.7" x2="333.8" y2="803.5" stroke="#5a5a5a" stroke-width="1"/>
<line x1="373.0" y1="801.7" x2="373.0" y2="803.5" stroke="#5a5a5a" stroke-width="1"/>
<line x1="412.1" y1="801.7" x2="412.1" y2="803.5" stroke="#5a5a5a" stroke-width="1"/>
<line x1="451.3" y1="801.7" x2="451.3" y2="803.5" stroke="#5a5a5a" stroke-width="1"/>
<line x1="490.4" y1="801.7" x2="490.4" y2="803.5" stroke="#5a5a5a" stroke-width="1"/>
<text x="417.0" y="833.3" font-size="12.7" text-anchor="middle" fill="#1e1e1e">Time (min)</text>
<text transform="translate(289.2,727.2) rotate(-90)" font-size="12.7" text-anchor="middle" fill="#1e1e1e">Resistance (&#937;)</text>
<text transform="translate(540.4,727.4) rotate(-90)" font-size="12.8" text-anchor="middle" fill="#1e1e1e">NH<tspan font-size="8.5" dy="2.5">3</tspan><tspan dy="-2.5"> (ppm)</tspan></text>
<line x1="461.8" y1="662.9" x2="483.8" y2="662.9" stroke="#666" stroke-width="1.3"/>
<text x="486.6" y="666.1" font-size="9.5" fill="#1e1e1e">WS<tspan font-size="6.6" dy="2.5">2</tspan></text>
</svg>
</body></html>
